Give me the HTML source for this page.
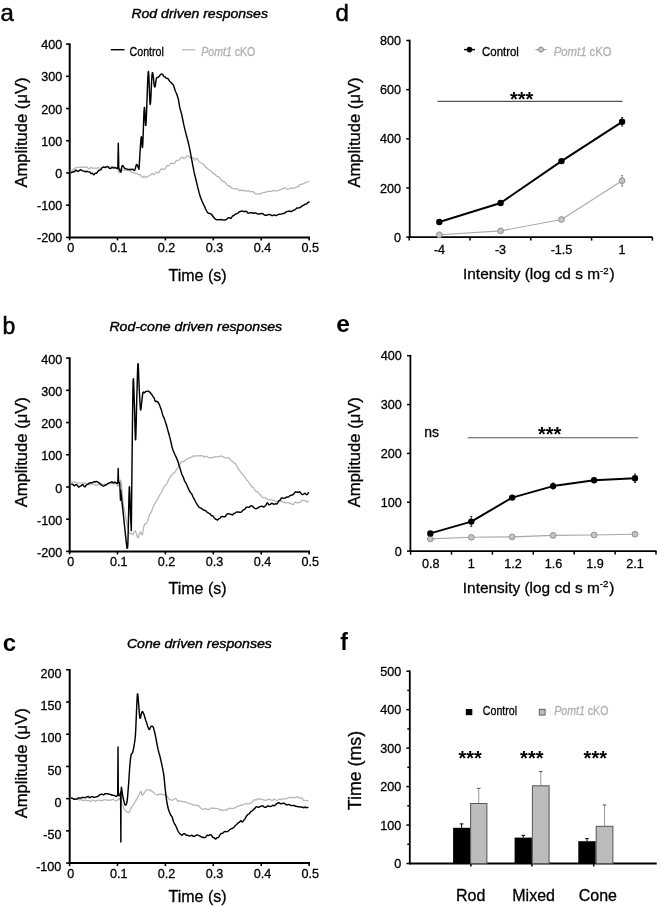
<!DOCTYPE html>
<html><head><meta charset="utf-8"><style>
html,body{margin:0;padding:0;background:#fff;overflow:hidden;}
svg{display:block;font-family:"Liberation Sans", sans-serif;will-change:transform;}
</style></head><body>
<svg width="660" height="907" viewBox="0 0 660 907">
<line x1="69.7" y1="43.3" x2="69.7" y2="238.4" stroke="#000" stroke-width="2.0" />
<line x1="66.1" y1="44.1" x2="69.7" y2="44.1" stroke="#000" stroke-width="1.6" />
<text x="62.2" y="49.1" font-size="12.6" text-anchor="end"  stroke="#000" stroke-width="0.3">400</text>
<line x1="66.1" y1="76.32" x2="69.7" y2="76.32" stroke="#000" stroke-width="1.6" />
<text x="62.2" y="81.32" font-size="12.6" text-anchor="end"  stroke="#000" stroke-width="0.3">300</text>
<line x1="66.1" y1="108.53" x2="69.7" y2="108.53" stroke="#000" stroke-width="1.6" />
<text x="62.2" y="113.53" font-size="12.6" text-anchor="end"  stroke="#000" stroke-width="0.3">200</text>
<line x1="66.1" y1="140.75" x2="69.7" y2="140.75" stroke="#000" stroke-width="1.6" />
<text x="62.2" y="145.75" font-size="12.6" text-anchor="end"  stroke="#000" stroke-width="0.3">100</text>
<line x1="66.1" y1="172.97" x2="69.7" y2="172.97" stroke="#000" stroke-width="1.6" />
<text x="62.2" y="177.97" font-size="12.6" text-anchor="end"  stroke="#000" stroke-width="0.3">0</text>
<line x1="66.1" y1="205.18" x2="69.7" y2="205.18" stroke="#000" stroke-width="1.6" />
<text x="62.2" y="210.18" font-size="12.6" text-anchor="end"  stroke="#000" stroke-width="0.3">-100</text>
<line x1="66.1" y1="237.4" x2="69.7" y2="237.4" stroke="#000" stroke-width="1.6" />
<text x="62.2" y="242.4" font-size="12.6" text-anchor="end"  stroke="#000" stroke-width="0.3">-200</text>
<line x1="68.7" y1="237.4" x2="310" y2="237.4" stroke="#000" stroke-width="2.0" />
<line x1="69.6" y1="237.4" x2="69.6" y2="240.4" stroke="#000" stroke-width="1.6" />
<text x="70.8" y="251.8" font-size="12.6" text-anchor="middle"  stroke="#000" stroke-width="0.3">0</text>
<line x1="117.5" y1="237.4" x2="117.5" y2="240.4" stroke="#000" stroke-width="1.6" />
<text x="118.7" y="251.8" font-size="12.6" text-anchor="middle"  stroke="#000" stroke-width="0.3">0.1</text>
<line x1="165.4" y1="237.4" x2="165.4" y2="240.4" stroke="#000" stroke-width="1.6" />
<text x="166.6" y="251.8" font-size="12.6" text-anchor="middle"  stroke="#000" stroke-width="0.3">0.2</text>
<line x1="213.3" y1="237.4" x2="213.3" y2="240.4" stroke="#000" stroke-width="1.6" />
<text x="214.5" y="251.8" font-size="12.6" text-anchor="middle"  stroke="#000" stroke-width="0.3">0.3</text>
<line x1="261.2" y1="237.4" x2="261.2" y2="240.4" stroke="#000" stroke-width="1.6" />
<text x="262.4" y="251.8" font-size="12.6" text-anchor="middle"  stroke="#000" stroke-width="0.3">0.4</text>
<line x1="309.1" y1="237.4" x2="309.1" y2="240.4" stroke="#000" stroke-width="1.6" />
<text x="310.3" y="251.8" font-size="12.6" text-anchor="middle"  stroke="#000" stroke-width="0.3">0.5</text>
<text transform="translate(26.6,132.5) rotate(-90)" font-size="16.6" text-anchor="middle" stroke="#000" stroke-width="0.3">Amplitude (&#956;V)</text>
<text x="199.7" y="17.8" font-size="13.4" text-anchor="middle" font-style="italic" stroke="#000" stroke-width="0.4" textLength="136.5" lengthAdjust="spacingAndGlyphs">Rod driven responses</text>
<text x="195.8" y="331.1" font-size="13.4" text-anchor="middle" font-style="italic" stroke="#000" stroke-width="0.4" textLength="172.8" lengthAdjust="spacingAndGlyphs">Rod-cone driven responses</text>
<text x="199.4" y="647.6" font-size="13.4" text-anchor="middle" font-style="italic" stroke="#000" stroke-width="0.4" textLength="145" lengthAdjust="spacingAndGlyphs">Cone driven responses</text>
<text x="197.5" y="280.8" font-size="16" text-anchor="middle"  stroke="#000" stroke-width="0.3">Time (s)</text>
<line x1="69.7" y1="357.3" x2="69.7" y2="552.4" stroke="#000" stroke-width="2.0" />
<line x1="66.1" y1="358.1" x2="69.7" y2="358.1" stroke="#000" stroke-width="1.6" />
<text x="62.2" y="363.7" font-size="12.6" text-anchor="end"  stroke="#000" stroke-width="0.3">400</text>
<line x1="66.1" y1="390.32" x2="69.7" y2="390.32" stroke="#000" stroke-width="1.6" />
<text x="62.2" y="395.92" font-size="12.6" text-anchor="end"  stroke="#000" stroke-width="0.3">300</text>
<line x1="66.1" y1="422.53" x2="69.7" y2="422.53" stroke="#000" stroke-width="1.6" />
<text x="62.2" y="428.13" font-size="12.6" text-anchor="end"  stroke="#000" stroke-width="0.3">200</text>
<line x1="66.1" y1="454.75" x2="69.7" y2="454.75" stroke="#000" stroke-width="1.6" />
<text x="62.2" y="460.35" font-size="12.6" text-anchor="end"  stroke="#000" stroke-width="0.3">100</text>
<line x1="66.1" y1="486.97" x2="69.7" y2="486.97" stroke="#000" stroke-width="1.6" />
<text x="62.2" y="492.57" font-size="12.6" text-anchor="end"  stroke="#000" stroke-width="0.3">0</text>
<line x1="66.1" y1="519.18" x2="69.7" y2="519.18" stroke="#000" stroke-width="1.6" />
<text x="62.2" y="524.78" font-size="12.6" text-anchor="end"  stroke="#000" stroke-width="0.3">-100</text>
<line x1="66.1" y1="551.4" x2="69.7" y2="551.4" stroke="#000" stroke-width="1.6" />
<text x="62.2" y="557" font-size="12.6" text-anchor="end"  stroke="#000" stroke-width="0.3">-200</text>
<line x1="68.7" y1="551.4" x2="310" y2="551.4" stroke="#000" stroke-width="2.0" />
<line x1="69.6" y1="551.4" x2="69.6" y2="554.4" stroke="#000" stroke-width="1.6" />
<text x="70.8" y="565.8" font-size="12.6" text-anchor="middle"  stroke="#000" stroke-width="0.3">0</text>
<line x1="117.5" y1="551.4" x2="117.5" y2="554.4" stroke="#000" stroke-width="1.6" />
<text x="118.7" y="565.8" font-size="12.6" text-anchor="middle"  stroke="#000" stroke-width="0.3">0.1</text>
<line x1="165.4" y1="551.4" x2="165.4" y2="554.4" stroke="#000" stroke-width="1.6" />
<text x="166.6" y="565.8" font-size="12.6" text-anchor="middle"  stroke="#000" stroke-width="0.3">0.2</text>
<line x1="213.3" y1="551.4" x2="213.3" y2="554.4" stroke="#000" stroke-width="1.6" />
<text x="214.5" y="565.8" font-size="12.6" text-anchor="middle"  stroke="#000" stroke-width="0.3">0.3</text>
<line x1="261.2" y1="551.4" x2="261.2" y2="554.4" stroke="#000" stroke-width="1.6" />
<text x="262.4" y="565.8" font-size="12.6" text-anchor="middle"  stroke="#000" stroke-width="0.3">0.4</text>
<line x1="309.1" y1="551.4" x2="309.1" y2="554.4" stroke="#000" stroke-width="1.6" />
<text x="310.3" y="565.8" font-size="12.6" text-anchor="middle"  stroke="#000" stroke-width="0.3">0.5</text>
<text transform="translate(26.6,452.2) rotate(-90)" font-size="16.6" text-anchor="middle" stroke="#000" stroke-width="0.3">Amplitude (&#956;V)</text>
<text x="197.5" y="594.1" font-size="16" text-anchor="middle"  stroke="#000" stroke-width="0.3">Time (s)</text>
<line x1="69.7" y1="669" x2="69.7" y2="864.1" stroke="#000" stroke-width="2.0" />
<line x1="66.1" y1="669.8" x2="69.7" y2="669.8" stroke="#000" stroke-width="1.6" />
<text x="61.4" y="677.9" font-size="12.6" text-anchor="end"  stroke="#000" stroke-width="0.3">200</text>
<line x1="66.1" y1="702.02" x2="69.7" y2="702.02" stroke="#000" stroke-width="1.6" />
<text x="61.4" y="710.12" font-size="12.6" text-anchor="end"  stroke="#000" stroke-width="0.3">150</text>
<line x1="66.1" y1="734.23" x2="69.7" y2="734.23" stroke="#000" stroke-width="1.6" />
<text x="61.4" y="742.33" font-size="12.6" text-anchor="end"  stroke="#000" stroke-width="0.3">100</text>
<line x1="66.1" y1="766.45" x2="69.7" y2="766.45" stroke="#000" stroke-width="1.6" />
<text x="61.4" y="774.55" font-size="12.6" text-anchor="end"  stroke="#000" stroke-width="0.3">50</text>
<line x1="66.1" y1="798.67" x2="69.7" y2="798.67" stroke="#000" stroke-width="1.6" />
<text x="61.4" y="806.77" font-size="12.6" text-anchor="end"  stroke="#000" stroke-width="0.3">0</text>
<line x1="66.1" y1="830.88" x2="69.7" y2="830.88" stroke="#000" stroke-width="1.6" />
<text x="61.4" y="838.98" font-size="12.6" text-anchor="end"  stroke="#000" stroke-width="0.3">-50</text>
<line x1="66.1" y1="863.1" x2="69.7" y2="863.1" stroke="#000" stroke-width="1.6" />
<text x="61.4" y="871.2" font-size="12.6" text-anchor="end"  stroke="#000" stroke-width="0.3">-100</text>
<line x1="68.7" y1="863.1" x2="310" y2="863.1" stroke="#000" stroke-width="2.0" />
<line x1="69.6" y1="863.1" x2="69.6" y2="866.1" stroke="#000" stroke-width="1.6" />
<text x="70.8" y="877.5" font-size="12.6" text-anchor="middle"  stroke="#000" stroke-width="0.3">0</text>
<line x1="117.5" y1="863.1" x2="117.5" y2="866.1" stroke="#000" stroke-width="1.6" />
<text x="118.7" y="877.5" font-size="12.6" text-anchor="middle"  stroke="#000" stroke-width="0.3">0.1</text>
<line x1="165.4" y1="863.1" x2="165.4" y2="866.1" stroke="#000" stroke-width="1.6" />
<text x="166.6" y="877.5" font-size="12.6" text-anchor="middle"  stroke="#000" stroke-width="0.3">0.2</text>
<line x1="213.3" y1="863.1" x2="213.3" y2="866.1" stroke="#000" stroke-width="1.6" />
<text x="214.5" y="877.5" font-size="12.6" text-anchor="middle"  stroke="#000" stroke-width="0.3">0.3</text>
<line x1="261.2" y1="863.1" x2="261.2" y2="866.1" stroke="#000" stroke-width="1.6" />
<text x="262.4" y="877.5" font-size="12.6" text-anchor="middle"  stroke="#000" stroke-width="0.3">0.4</text>
<line x1="309.1" y1="863.1" x2="309.1" y2="866.1" stroke="#000" stroke-width="1.6" />
<text x="310.3" y="877.5" font-size="12.6" text-anchor="middle"  stroke="#000" stroke-width="0.3">0.5</text>
<text transform="translate(26.6,763.3) rotate(-90)" font-size="16.6" text-anchor="middle" stroke="#000" stroke-width="0.3">Amplitude (&#956;V)</text>
<text x="197.5" y="902.3" font-size="16" text-anchor="middle"  stroke="#000" stroke-width="0.3">Time (s)</text>
<text x="0.6" y="20.6" font-size="24" stroke="#000" stroke-width="0.5">a</text>
<text x="2.6" y="334.4" font-size="23" stroke="#000" stroke-width="0.5">b</text>
<text x="2.8" y="650.5" font-size="24" font-weight="bold" >c</text>
<text x="335.4" y="20.8" font-size="24" stroke="#000" stroke-width="0.5">d</text>
<text x="336.2" y="332" font-size="24.5" font-weight="bold" >e</text>
<text x="340.2" y="649.5" font-size="23" font-weight="bold" >f</text>
<line x1="110.8" y1="49.7" x2="124.5" y2="49.7" stroke="#000" stroke-width="1.4" />
<text x="129.6" y="55.6" font-size="12.4" textLength="34.3" lengthAdjust="spacingAndGlyphs" stroke="#000" stroke-width="0.3">Control</text>
<line x1="182" y1="49.7" x2="195.4" y2="49.7" stroke="#c0c0c0" stroke-width="1.4" />
<text x="201.3" y="55.6" font-size="12.4" fill="#b0b0b0" textLength="54" lengthAdjust="spacingAndGlyphs" stroke="#b0b0b0" stroke-width="0.3"><tspan font-style="italic">Pomt1</tspan> cKO</text>
<polyline points="70.7,171.21 70.98,171.01 71.35,170.73 71.8,170.51 72.29,170.31 72.8,170.12 73.3,169.52 73.73,169.02 74.17,168.52 74.63,168.26 75.1,168.04 75.57,167.84 76.04,167.69 76.5,167.59 77.05,167.53 77.61,167.27 78.17,167.05 78.71,167.11 79.23,167.33 79.7,167.48 80.28,167.42 80.75,167.23 81.22,167.08 81.8,167.12 82.28,167.3 82.83,167.35 83.4,167.12 83.97,166.89 84.52,167.17 85,167.39 85.6,167.37 86.12,167.04 86.6,166.73 87.1,166.89 87.6,167.56 88.08,168.39 88.6,168.84 89.2,168.96 89.67,168.8 90.19,168.23 90.73,167.58 91.29,167.43 91.85,167.81 92.4,168.27 92.93,168.22 93.47,168.23 94,168.2 94.53,168.09 95.07,168 95.6,168.03 96.13,168.12 96.67,168.22 97.21,168.11 97.74,167.99 98.27,167.94 98.8,167.92 99.32,167.84 99.84,168.05 100.35,168.28 100.86,168.41 101.38,168.03 101.9,167.66 102.43,167.43 102.96,167.39 103.49,167.34 104.03,167.26 104.57,167.17 105.1,167.06 105.63,166.84 106.17,166.63 106.7,166.64 107.23,166.83 107.77,167.01 108.3,166.93 108.83,166.81 109.37,166.74 109.9,166.86 110.43,166.99 110.97,166.84 111.5,166.62 112.03,166.45 112.57,166.58 113.11,166.75 113.64,166.87 114.17,166.93 114.7,167.02 115.26,167.31 115.86,167.71 116.45,168.04 117,168.22 117.46,168.38 117.8,168.58 118.9,172.97 120,168.69 120.32,169.44 120.76,169.65 121.28,169.83 121.86,170 122.48,170.09 123.1,170.16 123.58,170.22 124.09,170.28 124.63,170.33 125.18,170.22 125.74,170.11 126.3,170.1 126.86,170.19 127.4,170.27 127.94,170.43 128.48,170.6 129.02,170.69 129.56,170.67 130.09,170.66 130.61,171.08 131.11,171.61 131.6,172.13 132.14,172.06 132.67,172.01 133.18,172.14 133.68,172.56 134.15,172.97 134.59,173.14 135,173.04 135.6,172.81 136.09,172.9 136.56,173.23 137.1,173.77 137.52,174.04 137.96,174.31 138.42,174.63 138.89,174.74 139.35,174.68 139.8,174.59 140.24,174.81 140.69,175.29 141.14,175.76 141.57,176.29 142,176.87 142.4,177.34 142.97,177.49 143.51,176.9 144.02,176.3 144.5,176.23 145.03,176.8 145.5,177.54 146.1,177.54 146.56,177.21 147.08,176.81 147.63,176.45 148.21,176 148.8,175.87 149.18,175.84 149.59,175.73 150.01,175.48 150.44,175.12 150.86,174.77 151.27,174.42 151.65,173.93 152,173.58 152.48,173.43 152.9,173.75 153.28,174.23 153.67,174.56 154.1,174.57 154.37,174.44 154.65,174.16 154.94,173.78 155.24,173.33 155.54,172.93 155.84,172.61 156.14,172.35 156.43,172.19 156.7,172.17 157.17,172.17 157.61,172.43 158.05,172.81 158.47,172.96 158.9,172.7 159.2,172.24 159.48,171.6 159.75,170.99 160.03,170.44 160.32,169.91 160.64,169.47 161,169.19 161.48,168.97 162.01,168.92 162.57,168.97 163.14,169.06 163.69,169.06 164.2,169.23 164.56,169.25 164.9,169.15 165.24,168.89 165.57,168.15 165.89,167.4 166.2,166.69 166.5,166.06 166.8,165.77 167.35,165.73 167.84,165.93 168.34,165.96 168.9,165.68 169.26,165.33 169.65,164.83 170.05,164.23 170.45,163.63 170.85,163.11 171.24,162.99 171.6,163 172.15,163.41 172.65,163.53 173.15,163.59 173.7,163.37 174.01,163.34 174.34,163.21 174.67,162.99 175.02,162.71 175.37,162.02 175.72,161.36 176.06,160.77 176.4,160.29 176.92,160.26 177.42,160.41 177.92,160.55 178.44,160.39 179,159.99 179.34,159.65 179.69,159.26 180.06,158.79 180.44,158.29 180.82,157.94 181.19,157.74 181.55,157.6 181.89,157.55 182.2,157.42 182.68,157.42 183.09,157.81 183.47,158.33 183.86,158.64 184.3,158.57 184.65,158.21 185.02,157.92 185.39,157.71 185.78,157.47 186.18,157.26 186.59,156.61 187,156.1 187.5,155.73 188.02,155.94 188.55,156.36 189.08,156.84 189.6,157.43 190.1,157.91 190.68,158.12 191.24,158.03 191.78,157.93 192.3,157.67 192.8,157.51 193.26,157.62 193.68,158.46 194.09,159.3 194.49,160.07 194.9,160.12 195.41,159.55 195.91,158.73 196.43,158.34 197,158.39 197.31,158.62 197.62,159.08 197.95,159.67 198.28,160.32 198.62,161 198.98,161.5 199.33,161.77 199.7,161.98 200.08,162.14 200.49,162.42 200.91,162.74 201.34,163.05 201.76,163.32 202.17,163.53 202.55,163.74 202.9,163.94 203.38,164.37 203.78,164.79 204.15,165.2 204.54,165.69 205,166.38 205.37,166.91 205.75,167.45 206.15,167.66 206.58,167.83 207.02,168.01 207.5,168.42 208,169.02 208.38,169.46 208.78,169.8 209.2,170.01 209.63,170.21 210.07,170.45 210.52,170.83 210.98,171.2 211.43,171.59 211.87,172.17 212.3,172.75 212.72,173.31 213.14,173.48 213.56,173.56 213.98,173.65 214.4,173.86 214.82,174.22 215.24,174.58 215.66,174.97 216.08,175.44 216.5,175.92 216.89,176.37 217.28,176.51 217.67,176.54 218.06,176.57 218.45,176.64 218.85,176.97 219.24,177.3 219.63,177.63 220.02,178.16 220.41,178.84 220.8,179.51 221.18,180.17 221.55,180.49 221.92,180.79 222.29,181.09 222.65,181.36 223.02,181.45 223.4,181.55 223.78,181.63 224.17,181.81 224.58,182.12 225,182.43 225.4,182.72 225.82,183.3 226.25,183.89 226.69,184.49 227.13,184.96 227.58,185.38 228.04,185.8 228.49,185.9 228.95,185.82 229.4,185.73 229.85,186.06 230.3,186.72 230.78,187.42 231.26,187.86 231.75,188.09 232.23,188.31 232.71,188.45 233.19,188.54 233.67,188.62 234.15,188.72 234.64,188.83 235.12,188.92 235.6,188.93 236.13,188.91 236.66,188.89 237.19,188.98 237.72,189.06 238.25,189.41 238.78,190.06 239.31,190.71 239.84,190.52 240.37,190.16 240.9,189.93 241.43,190.29 241.96,190.63 242.49,190.65 243.02,190.42 243.55,190.19 244.08,190.51 244.61,190.89 245.14,191.15 245.67,191.07 246.2,191.01 246.74,190.92 247.3,190.83 247.88,190.75 248.45,190.79 249.02,190.84 249.58,191.17 250.12,191.62 250.62,192.03 251.08,191.79 251.5,191.58 252.16,191.41 252.66,191.66 253.07,191.88 253.49,192.12 254,192.49 254.44,192.81 254.91,193.16 255.39,193.51 255.9,193.87 256.4,194.08 256.91,194.08 257.4,194.04 257.96,193.9 258.51,193.69 259.06,193.52 259.62,193.87 260.2,194.21 260.8,193.94 261.27,193.48 261.74,193 262.22,192.76 262.71,192.53 263.21,192.3 263.72,192.33 264.25,192.35 264.8,192.37 265.25,192.37 265.72,192.36 266.2,192.23 266.7,191.91 267.19,191.59 267.7,191.44 268.2,191.41 268.71,191.37 269.21,191.37 269.7,191.38 270.19,191.39 270.68,191.4 271.17,191.41 271.66,191.39 272.14,191.04 272.63,190.7 273.12,190.44 273.61,190.47 274.11,190.5 274.6,190.6 275.1,190.8 275.6,191 276.1,191.06 276.6,191.01 277.1,190.96 277.6,190.72 278.1,190.43 278.6,190.15 279.1,190.07 279.6,189.99 280.09,189.89 280.59,189.72 281.08,189.55 281.57,189.31 282.06,188.95 282.54,188.6 283.03,188.34 283.52,188.19 284.01,188.05 284.5,187.95 285.05,187.88 285.61,187.84 286.17,188.39 286.73,188.95 287.29,189.14 287.84,189 288.38,188.86 288.9,188.99 289.4,189.12 290.01,188.99 290.58,188.35 291.14,187.74 291.67,187.98 292.21,188.32 292.75,188.5 293.3,188.29 293.8,188.08 294.3,187.99 294.8,187.96 295.3,187.92 295.8,187.56 296.3,187.11 296.8,186.65 297.3,186.8 297.74,186.91 298.17,187 298.6,186.32 299.03,185.59 299.47,184.85 299.9,184.58 300.33,184.54 300.76,184.5 301.2,184.42 301.69,184.25 302.18,184.1 302.68,183.94 303.17,183.78 303.67,183.63 304.17,183.34 304.68,183.01 305.2,182.68 305.7,182.45 306.24,182.21 306.8,181.99 307.37,181.84 307.92,181.68 308.44,181.56 308.91,181.45 309.3,181.36 309.6,181.14" fill="none" stroke="#b4b4b4" stroke-width="1.25" stroke-linejoin="round" />
<polyline points="70.7,172.91 71.09,172.75 71.65,172.47 72.26,172.14 72.8,171.97 73.37,171.78 73.89,171.82 74.4,171.7 74.79,171.33 75.17,170.76 75.56,170.19 76,170.08 76.49,170.43 77.02,171.04 77.56,171.36 78.1,171.37 78.44,171.13 78.78,170.92 79.12,170.61 79.46,170.31 79.82,170.11 80.2,169.84 80.69,169.81 81.2,169.99 81.73,170.29 82.27,170.61 82.8,170.85 83.34,171.02 83.88,171.17 84.42,171.37 84.96,171.57 85.5,171.7 86.02,171.5 86.54,171.29 87.06,171.31 87.58,171.58 88.1,171.87 88.63,171.89 89.17,171.86 89.72,171.97 90.26,172.6 90.8,173.28 91.25,173.46 91.7,173.34 92.16,173.25 92.61,173.51 93.06,174.14 93.5,174.65 94.02,174.7 94.54,174.11 95.06,173.42 95.58,173.24 96.1,173.25 96.48,173.22 96.85,172.85 97.23,172.31 97.61,171.75 98,171.19 98.39,170.83 98.8,170.5 99.22,170.2 99.65,170.02 100.1,169.93 100.54,169.86 101,169.51 101.45,168.81 101.9,168.11 102.35,167.57 102.81,167.31 103.26,167.07 103.72,166.95 104.18,167.18 104.64,167.44 105.1,167.62 105.63,167.29 106.17,167.03 106.7,166.82 107.23,166.64 107.77,166.47 108.3,167.06 108.83,167.71 109.37,168.22 109.9,168.35 110.43,168.48 110.97,168.26 111.5,167.86 112.03,167.46 112.57,167.69 113.11,167.9 113.64,167.94 114.17,167.78 114.7,167.65 115.26,167.77 115.86,167.96 116.45,168.2 117,168.47 117.46,168.7 117.8,168.62 118.3,143.13 118.8,168.51 119.02,168.46 119.34,169.22 119.69,170.04 120,170.77 120.39,171.64 120.75,171.96 121,172.17 121.05,171.96 121.11,171.54 121.17,171.02 121.25,170.45 121.33,169.83 121.42,169.19 121.52,168.56 121.62,167.95 121.73,167.39 121.85,166.9 121.97,165.97 122.1,165.72 122.55,165.56 123.09,165.94 123.65,166.83 124.2,167.71 124.62,168.31 125.04,168.47 125.46,168.63 125.88,168.76 126.3,168.95 126.8,169.1 127.28,169.15 127.8,169.23 128.4,169.37 128.87,169.49 129.39,169.47 129.94,169.45 130.51,169.43 131.07,169.43 131.6,169.42 132.12,169.31 132.65,169.29 133.17,169.48 133.68,169.99 134.16,170.3 134.6,170.22 134.8,169.97 135,169.59 135.19,169.13 135.37,168.09 135.55,167.47 135.72,166.83 135.88,166.2 136.04,165.59 136.19,165.03 136.33,165.16 136.47,164.79 136.6,164.56 136.93,164.47 137.19,164.98 137.43,165.16 137.7,166.38 137.89,166.75 138.09,167.19 138.31,167.66 138.52,168.14 138.72,168.58 138.88,168.95 139,169.22 139.02,168.86 139.04,168.57 139.06,168.25 139.08,167.91 139.1,167.55 139.13,167.16 139.15,166.76 139.18,166.33 139.21,165.89 139.23,165.42 139.26,164.94 139.29,164.44 139.32,163.93 139.36,163.4 139.39,162.86 139.42,162.3 139.46,161.73 139.49,161.15 139.53,160.56 139.56,159.96 139.6,159.35 139.64,158.73 139.68,158.11 139.71,157.47 139.75,156.84 139.79,156.2 139.83,155.55 139.87,154.9 139.91,154.25 139.95,153.6 139.99,152.95 140.03,152.31 140.07,151.66 140.12,151.02 140.16,150.38 140.2,149.74 140.24,149.11 140.28,148.49 140.32,147.87 140.36,147.26 140.4,146.66 140.44,146.07 140.49,145.48 140.53,144.91 140.57,144.36 140.61,143.81 140.64,143.28 140.68,142.76 140.72,142.26 140.76,141.77 140.8,141.31 140.84,140.86 140.87,140.43 140.91,140.01 140.94,139.62 140.98,139.26 141.01,138.91 141.05,138.59 141.08,138.29 141.11,138.02 141.14,137.77 141.17,137.55 141.2,137.36 141.3,136.75 141.39,136.67 141.48,137.09 141.56,137.59 141.64,138.31 141.71,139.2 141.79,140.22 141.86,141.32 141.93,142.45 142,143.57 142.07,144.64 142.14,145.6 142.21,146.41 142.28,147.03 142.36,147.41 142.44,147.64 142.52,147.26 142.6,146.65 142.62,146.44 142.64,146.22 142.66,145.97 142.68,145.69 142.7,145.4 142.72,145.08 142.74,144.74 142.76,144.38 142.78,144 142.8,143.61 142.82,143.19 142.85,142.75 142.87,142.3 142.89,141.83 142.91,141.34 142.93,140.84 142.95,140.33 142.97,139.8 143,139.26 143.02,138.7 143.04,138.14 143.06,137.56 143.08,136.97 143.1,136.37 143.13,135.76 143.15,135.15 143.17,134.52 143.19,133.89 143.21,133.26 143.24,132.61 143.26,131.96 143.28,131.31 143.3,130.65 143.33,129.99 143.35,129.33 143.37,128.66 143.39,127.99 143.42,127.33 143.44,126.66 143.46,125.99 143.48,125.33 143.5,124.66 143.53,124 143.55,123.34 143.57,122.69 143.59,122.04 143.62,121.4 143.64,120.76 143.66,120.13 143.68,119.5 143.71,118.89 143.73,118.28 143.75,117.68 143.77,117.09 143.8,116.51 143.82,115.95 143.84,115.39 143.86,114.85 143.89,114.32 143.91,113.81 143.93,113.31 143.95,112.82 143.97,112.35 144,111.9 144.02,111.46 144.04,111.04 144.06,110.64 144.08,110.26 144.11,109.9 144.13,109.56 144.15,109.24 144.17,108.95 144.19,108.67 144.21,108.42 144.24,108.19 144.26,107.98 144.28,107.8 144.3,107.64 144.35,107.39 144.4,107.41 144.44,107.43 144.49,107.5 144.53,107.78 144.58,108.18 144.62,108.67 144.67,109.26 144.71,109.93 144.75,110.67 144.8,111.47 144.84,112.32 144.88,113.21 144.93,114.14 144.97,115.09 145.01,116.05 145.06,117.01 145.1,117.97 145.14,118.92 145.19,119.84 145.23,120.72 145.28,121.56 145.33,122.35 145.37,123.07 145.42,123.71 145.47,124.28 145.52,124.75 145.57,125.12 145.62,125.38 145.68,125.04 145.73,125.05 145.79,125.4 145.84,125.12 145.9,124.68 145.92,124.51 145.94,124.31 145.96,124.09 145.98,123.85 146,123.59 146.02,123.31 146.04,123.02 146.06,122.71 146.08,122.38 146.1,122.03 146.12,121.67 146.14,121.29 146.16,120.9 146.18,120.49 146.21,120.07 146.23,119.63 146.25,119.18 146.27,118.71 146.29,118.23 146.31,117.74 146.34,117.24 146.36,116.72 146.38,116.19 146.4,115.66 146.43,115.11 146.45,114.55 146.47,113.98 146.5,113.4 146.52,112.81 146.54,112.21 146.57,111.6 146.59,110.99 146.61,110.37 146.64,109.74 146.66,109.11 146.68,108.46 146.71,107.82 146.73,107.16 146.75,106.5 146.78,105.84 146.8,105.17 146.83,104.5 146.85,103.83 146.87,103.15 146.9,102.47 146.92,101.79 146.95,101.1 146.97,100.41 147,99.73 147.02,99.04 147.04,98.35 147.07,97.66 147.09,96.97 147.12,96.29 147.14,95.6 147.17,94.92 147.19,94.23 147.22,93.55 147.24,92.88 147.26,92.2 147.29,91.53 147.31,90.87 147.34,90.21 147.36,89.55 147.39,88.9 147.41,88.26 147.43,87.62 147.46,86.98 147.48,86.36 147.51,85.74 147.53,85.13 147.56,84.53 147.58,83.93 147.6,83.35 147.63,82.77 147.65,82.21 147.67,81.65 147.7,81.11 147.72,80.57 147.75,80.05 147.77,79.54 147.79,79.04 147.82,78.56 147.84,78.08 147.86,77.62 147.89,77.18 147.91,76.74 147.93,76.33 147.95,75.92 147.98,75.54 148,75.17 148.02,74.81 148.04,74.47 148.07,74.15 148.09,73.85 148.11,73.56 148.13,73.29 148.15,73.04 148.17,72.81 148.2,72.6 148.22,72.41 148.24,72.24 148.26,72.09 148.28,71.96 148.3,71.85 148.33,71.72 148.37,71.47 148.4,71.45 148.43,71.49 148.46,71.74 148.5,71.87 148.53,72.04 148.56,72.27 148.59,72.53 148.62,72.84 148.65,73.19 148.68,73.57 148.71,74 148.75,74.45 148.78,74.94 148.81,75.47 148.84,76.02 148.87,76.6 148.89,77.21 148.92,77.84 148.95,78.5 148.98,79.17 149.01,79.87 149.04,80.58 149.07,81.31 149.1,82.06 149.13,82.82 149.16,83.59 149.18,84.37 149.21,85.15 149.24,85.95 149.27,86.74 149.3,87.54 149.33,88.34 149.35,89.14 149.38,89.94 149.41,90.73 149.44,91.52 149.47,92.3 149.49,93.07 149.52,93.83 149.55,94.57 149.58,95.3 149.61,96.02 149.64,96.72 149.67,97.4 149.69,98.05 149.72,98.69 149.75,99.3 149.78,99.88 149.81,100.44 149.84,100.96 149.87,101.46 149.9,101.92 149.93,102.34 149.96,102.73 149.99,103.09 150.02,103.4 150.05,103.67 150.08,103.89 150.11,104.07 150.14,104.21 150.17,104.41 150.2,104.45 150.23,104.45 150.26,104.4 150.3,104.17 150.33,104.03 150.36,103.85 150.39,103.63 150.43,103.38 150.46,103.09 150.49,102.77 150.53,102.41 150.56,102.02 150.59,101.61 150.62,101.16 150.66,100.69 150.69,100.19 150.72,99.67 150.76,99.13 150.79,98.56 150.82,97.97 150.86,97.37 150.89,96.74 150.92,96.1 150.96,95.45 150.99,94.78 151.02,94.1 151.06,93.41 151.09,92.71 151.12,92 151.16,91.29 151.19,90.57 151.22,89.84 151.26,89.11 151.29,88.38 151.33,87.65 151.36,86.92 151.4,86.19 151.43,85.47 151.46,84.76 151.5,84.05 151.53,83.35 151.57,82.66 151.6,81.98 151.64,81.32 151.67,80.66 151.7,80.03 151.74,79.41 151.77,78.81 151.81,78.23 151.84,77.67 151.88,77.13 151.91,76.61 151.95,76.13 151.98,75.66 152.02,75.23 152.05,74.82 152.09,74.45 152.12,74.11 152.16,73.8 152.19,73.52 152.23,73.28 152.26,73.08 152.3,72.92 152.38,72.74 152.46,72.61 152.54,72.61 152.62,72.71 152.71,72.96 152.79,73.3 152.87,73.73 152.96,74.24 153.04,74.81 153.13,75.45 153.21,76.14 153.3,76.88 153.38,77.64 153.47,78.43 153.55,79.24 153.64,80.05 153.72,80.85 153.81,81.64 153.89,82.41 153.97,83.15 154.06,83.86 154.14,84.53 154.22,85.14 154.3,85.68 154.37,86.14 154.45,86.51 154.53,86.57 154.6,86.79 154.72,86.97 154.84,86.99 154.95,86.85 155.06,86.42 155.18,85.96 155.28,85.42 155.39,84.8 155.5,84.1 155.6,83.36 155.71,82.61 155.81,81.86 155.91,81.12 156.01,80.43 156.11,79.79 156.21,79.23 156.3,78.77 156.4,78.47 156.92,77.4 157.41,77.4 157.9,77.4 158.38,77.08 158.86,76.64 159.4,76.02 159.7,75.63 160.03,75.25 160.37,74.84 160.71,74.46 161.06,74.17 161.4,73.97 161.91,74 162.43,74.32 162.94,75 163.4,75.66 163.7,76.15 163.94,76.48 164.18,76.71 164.48,76.9 164.9,76.99 165.25,77.03 165.66,77.46 166.11,77.92 166.59,78.38 167.08,78.42 167.56,78.47 168,78.56 168.4,79.12 168.75,79.7 169.08,80.32 169.38,80.95 169.66,81.24 169.94,81.51 170.22,81.76 170.5,81.99 170.8,82.16 171.21,82.68 171.63,83.1 172.04,83.48 172.46,83.86 172.88,84.34 173.3,85.03 173.48,85.4 173.66,85.83 173.84,86.33 174.01,86.86 174.19,87.41 174.37,87.99 174.55,88.53 174.73,89.09 174.91,89.66 175.09,90.21 175.26,90.73 175.44,91.19 175.62,91.6 175.8,91.98 175.98,92.36 176.17,92.72 176.35,93.07 176.54,93.58 176.73,94.14 176.92,94.71 177.11,95.27 177.3,95.84 177.48,96.41 177.66,96.98 177.83,97.6 178,98.11 178.15,98.62 178.3,99.16 178.41,99.61 178.52,100.08 178.62,100.56 178.71,101.06 178.8,101.56 178.89,102.07 178.97,102.59 179.05,103.1 179.13,103.62 179.2,104.14 179.28,104.66 179.36,105.18 179.44,105.69 179.52,106.19 179.61,106.68 179.7,107.15 179.8,107.62 179.92,108.15 180.05,108.65 180.17,109.12 180.3,109.57 180.42,110 180.55,110.44 180.69,110.87 180.82,111.32 180.96,111.78 181.1,112.26 181.25,112.78 181.39,113.33 181.54,113.93 181.7,114.58 181.79,114.99 181.89,115.41 181.98,115.85 182.08,116.32 182.18,116.8 182.28,117.29 182.39,117.8 182.49,118.32 182.59,118.84 182.7,119.37 182.81,119.91 182.91,120.46 183.02,121 183.13,121.55 183.24,122.09 183.34,122.64 183.45,123.17 183.56,123.68 183.67,124.18 183.78,124.68 183.88,125.17 183.99,125.64 184.1,126.11 184.2,126.56 184.32,127.09 184.45,127.6 184.57,128.11 184.7,128.61 184.82,129.11 184.95,129.63 185.07,130.14 185.2,130.64 185.32,131.14 185.45,131.64 185.57,132.13 185.7,132.63 185.82,133.12 185.95,133.61 186.07,134.1 186.2,134.6 186.32,135.06 186.45,135.52 186.57,135.99 186.7,136.46 186.83,136.93 186.95,137.41 187.08,137.89 187.22,138.37 187.35,138.86 187.48,139.35 187.61,139.84 187.75,140.38 187.88,140.91 188.01,141.44 188.14,141.97 188.27,142.49 188.4,143.01 188.52,143.53 188.65,144.04 188.76,144.54 188.88,145.04 188.99,145.53 189.1,145.97 189.2,146.41 189.32,146.94 189.44,147.47 189.54,147.98 189.65,148.48 189.75,148.97 189.84,149.45 189.93,149.93 190.02,150.41 190.1,150.87 190.19,151.34 190.27,151.8 190.36,152.26 190.44,152.73 190.52,153.2 190.61,153.67 190.7,154.14 190.79,154.65 190.89,155.13 190.98,155.61 191.06,156.08 191.15,156.54 191.23,157 191.32,157.47 191.41,157.93 191.49,158.41 191.59,158.89 191.68,159.39 191.78,159.91 191.88,160.46 191.99,161.04 192.1,161.64 192.18,162.09 192.27,162.55 192.36,163.03 192.45,163.53 192.55,164.03 192.65,164.54 192.74,165.07 192.84,165.6 192.95,166.13 193.05,166.67 193.15,167.21 193.26,167.75 193.36,168.29 193.47,168.82 193.57,169.35 193.68,169.88 193.78,170.41 193.89,170.92 193.99,171.43 194.1,171.93 194.2,172.42 194.31,172.95 194.43,173.48 194.54,174 194.66,174.51 194.77,175 194.89,175.49 195.01,175.97 195.12,176.45 195.24,176.93 195.36,177.41 195.48,177.88 195.59,178.35 195.71,178.81 195.83,179.28 195.94,179.74 196.06,180.21 196.17,180.7 196.29,181.18 196.4,181.67 196.53,182.2 196.65,182.73 196.78,183.26 196.9,183.79 197.02,184.31 197.15,184.83 197.27,185.34 197.39,185.86 197.52,186.37 197.64,186.88 197.76,187.39 197.89,187.89 198.01,188.39 198.13,188.89 198.25,189.38 198.38,189.87 198.5,190.35 198.64,190.89 198.78,191.43 198.91,191.93 199.04,192.43 199.18,192.92 199.31,193.4 199.45,193.88 199.58,194.35 199.72,194.83 199.86,195.29 200,195.76 200.14,196.22 200.29,196.69 200.44,197.17 200.6,197.4 200.77,197.89 200.95,198.38 201.12,198.86 201.3,199.34 201.48,199.82 201.66,200.29 201.85,200.73 202.04,201.17 202.24,201.61 202.44,202.04 202.64,202.47 202.86,202.9 203.07,203.34 203.3,203.82 203.53,204.31 203.78,204.82 204.04,205.32 204.3,205.84 204.57,206.46 204.85,207.14 205.13,207.81 205.4,208.48 205.68,209.13 205.96,209.72 206.23,210.26 206.49,210.77 206.75,211.25 207,211.69 207.42,212.28 207.81,212.69 208.2,213.02 208.58,213.3 208.96,213.34 209.33,213.38 209.71,213.44 210.1,213.55 210.45,213.69 210.78,213.85 211.12,214.02 211.46,214.25 211.8,214.73 212.15,215.22 212.51,215.71 212.9,216.22 213.3,216.78 213.69,217.31 214.09,217.87 214.51,218.29 214.95,218.67 215.39,219.04 215.83,219.33 216.28,219.53 216.73,219.7 217.17,219.78 217.6,219.74 218.14,219.6 218.71,219.61 219.27,219.75 219.84,219.84 220.38,219.69 220.9,219.56 221.38,219.51 221.8,219.57 222.45,219.84 222.91,220.02 223.35,220.07 223.9,219.86 224.3,219.91 224.72,220.01 225.17,220.07 225.64,219.91 226.12,219.56 226.61,219.25 227.1,218.78 227.61,218.23 228.15,217.73 228.7,217.74 229.26,217.82 229.8,217.97 230.32,218.22 230.8,218.36 231.23,218.06 231.63,217.43 232,216.77 232.36,216.08 232.72,215.86 233.1,215.73 233.5,215.68 233.92,215.55 234.35,215.06 234.78,214.59 235.23,214.15 235.7,214.01 236.19,213.87 236.7,213.71 237.12,213.52 237.57,213.31 238.03,213.09 238.5,212.61 238.98,212.14 239.46,211.71 239.95,211.58 240.43,211.46 240.9,211.35 241.42,211.21 241.95,211.07 242.47,211.1 242.99,211.28 243.52,211.48 244.04,211.51 244.57,211.54 245.1,211.55 245.57,211.36 246.05,211.23 246.53,211.34 247.01,212.01 247.49,212.69 247.97,213.12 248.45,213.08 248.93,213.01 249.4,212.93 249.93,212.86 250.45,212.72 250.98,212.7 251.5,212.7 252.02,212.71 252.55,212.93 253.07,213.18 253.6,213.27 254.14,213.05 254.68,212.86 255.22,212.92 255.77,213.07 256.31,213.26 256.85,213.55 257.38,213.83 257.9,213.99 258.48,214.06 259.04,214.09 259.59,213.97 260.14,213.84 260.69,213.68 261.24,213.51 261.8,213.37 262.3,213.58 262.8,213.84 263.3,214.14 263.8,214.52 264.3,214.89 264.8,215.16 265.3,215.24 265.8,215.29 266.35,215.24 266.88,215.13 267.4,214.98 267.93,214.81 268.48,214.63 269.07,214.54 269.7,214.58 270.19,214.64 270.71,214.94 271.27,215.27 271.84,215.47 272.42,215.47 273,215.46 273.57,215.19 274.12,214.91 274.63,214.93 275.1,215.28 275.69,215.62 276.2,215.58 276.66,215.41 277.1,215.2 277.55,214.88 278.04,214.55 278.6,214.28 279.09,214.22 279.61,214.2 280.17,214.18 280.74,214.14 281.31,214.11 281.89,213.86 282.45,213.56 282.99,213.4 283.5,213.46 284.03,213.48 284.54,213.22 285.03,212.82 285.51,212.43 285.97,212.08 286.44,211.76 286.91,211.44 287.4,211.37 287.9,211.38 288.4,211.4 288.9,211.27 289.4,211.13 289.9,211.07 290.4,211.31 290.9,211.53 291.4,211.54 291.9,211.24 292.4,210.92 292.91,210.62 293.41,210.35 293.91,210.07 294.39,209.89 294.86,209.74 295.3,209.59 295.85,209.08 296.37,208.53 296.86,208.05 297.34,208.02 297.82,208 298.3,207.97 298.79,207.88 299.27,207.82 299.75,207.69 300.23,207.38 300.71,207.04 301.2,206.7 301.62,206.4 302.05,206.06 302.48,205.74 302.92,205.52 303.35,205.31 303.78,205.1 304.2,204.81 304.69,204.49 305.19,204.18 305.68,204.12 306.17,204.08 306.64,204 307.1,203.49 307.67,202.86 308.25,202.35 308.8,202.06 309.27,201.81 309.6,201.7" fill="none" stroke="#000" stroke-width="1.45" stroke-linejoin="round" />
<polyline points="71.2,481.88 71.54,482.06 71.99,482.13 72.54,482.2 73.14,482.24 73.77,482.24 74.4,482.21 74.88,482.13 75.38,482.04 75.9,482.24 76.44,482.65 76.98,483.07 77.53,483.15 78.07,483.22 78.6,483.23 79.12,483.11 79.65,482.99 80.17,483 80.69,483.06 81.22,483.11 81.74,483.01 82.27,482.91 82.8,482.82 83.33,482.75 83.87,482.68 84.41,482.9 84.95,483.2 85.49,483.49 86.03,483.7 86.57,483.91 87.1,483.86 87.63,483.62 88.15,483.38 88.68,483.81 89.2,484.31 89.72,484.63 90.25,484.35 90.77,484.07 91.3,483.97 91.83,484.02 92.37,484.06 92.91,483.98 93.45,483.9 93.99,484.06 94.53,484.66 95.07,485.26 95.6,485.28 96.13,485.09 96.65,484.91 97.18,484.93 97.7,484.94 98.22,484.85 98.75,484.64 99.27,484.44 99.8,484.12 100.33,483.78 100.87,483.55 101.41,483.8 101.95,484.06 102.49,484.28 103.03,484.44 103.57,484.59 104.1,484.38 104.63,484.11 105.16,484.03 105.68,484.44 106.21,484.84 106.73,484.69 107.25,484.23 107.78,483.79 108.3,483.57 108.82,483.37 109.35,483.32 109.87,483.65 110.39,483.98 110.92,483.83 111.44,483.38 111.97,482.93 112.5,483.36 113.06,483.87 113.65,484.04 114.25,483.72 114.85,483.44 115.42,483.55 115.95,483.68 116.42,483.77 116.8,483.84 117.18,484.26 117.36,485.15 117.44,485.92 117.54,486.24 117.8,486.28 117.97,486.08 118.17,485.73 118.39,485.25 118.63,484.68 118.89,484.05 119.14,483.33 119.4,482.56 119.66,481.84 119.9,481.2 120.12,480.69 120.33,480.33 120.5,480.18 120.66,480.21 120.79,480.34 120.9,480.58 121,481.41 121.09,481.86 121.16,482.4 121.24,483.03 121.31,483.74 121.4,484.54 121.49,485.41 121.6,486.36 121.64,486.72 121.68,487.1 121.73,487.51 121.77,487.93 121.81,488.38 121.85,488.85 121.9,489.34 121.94,489.84 121.99,490.36 122.03,490.89 122.07,491.43 122.12,491.98 122.17,492.54 122.21,493.1 122.26,493.67 122.3,494.25 122.35,494.83 122.4,495.41 122.45,495.99 122.5,496.57 122.55,497.15 122.6,497.72 122.65,498.29 122.71,498.85 122.76,499.41 122.81,499.95 122.87,500.49 122.93,501.01 122.98,501.52 123.04,502.02 123.1,502.5 123.18,503.08 123.25,503.64 123.33,504.18 123.41,504.72 123.5,505.25 123.58,505.78 123.67,506.3 123.76,506.81 123.84,507.32 123.93,507.82 124.03,508.32 124.12,508.81 124.21,509.3 124.3,509.79 124.39,510.27 124.49,510.75 124.58,511.22 124.67,511.71 124.76,512.2 124.86,512.69 124.95,513.18 125.04,513.66 125.13,514.15 125.21,514.62 125.3,515.1 125.4,515.67 125.5,516.24 125.61,516.8 125.71,517.36 125.81,517.93 125.91,518.48 126.01,519.03 126.11,519.56 126.21,520.07 126.31,520.58 126.41,521.09 126.51,521.58 126.6,522.07 126.7,522.55 126.8,523.02 126.9,523.48 127,523.93 127.1,524.37 127.2,524.8 127.3,525.21 127.4,525.61 127.56,526.28 127.72,526.93 127.88,527.56 128.05,528.17 128.21,528.76 128.37,529.31 128.53,529.84 128.69,530.87 128.85,531.4 129.02,531.8 129.18,532.17 129.34,532.5 129.5,532.79 130.05,533.39 130.61,533.55 131.15,533.53 131.6,533.61 131.99,534.15 132.26,534.69 132.7,534.72 132.95,534.43 133.24,533.87 133.56,533.16 133.9,532.4 134.25,531.69 134.61,531.2 134.96,530.98 135.3,531.08 135.48,531.31 135.66,531.67 135.84,532.11 136.03,532.35 136.21,532.92 136.4,533.55 136.59,534.2 136.77,534.85 136.96,535.49 137.14,536.09 137.32,536.21 137.5,536.77 137.67,537.22 137.84,537.54 138,537.72 138.18,537.72 138.36,537.54 138.53,537.21 138.69,536.75 138.85,536.14 139.01,535.48 139.17,534.79 139.32,534.1 139.47,533.45 139.63,532.86 139.78,532.72 139.94,532.41 140.1,532.15 140.4,532 140.7,532.3 141,532.87 141.3,533.49 141.6,534.28 141.9,534.9 142.2,534.98 142.3,534.85 142.41,534.37 142.51,534.02 142.61,533.62 142.71,533.16 142.81,532.65 142.91,532.09 143.01,531.5 143.11,530.89 143.21,530.26 143.31,529.63 143.42,529 143.52,528.37 143.63,527.77 143.73,527.19 143.84,526.64 143.95,526.13 144.07,525.67 144.18,525.26 144.3,525.37 144.72,524.39 145.16,523.8 145.62,523.42 146.09,523.3 146.55,523.01 147,522.38 147.17,522.06 147.33,521.68 147.49,521.27 147.65,520.81 147.82,520.44 147.98,519.92 148.14,519.38 148.3,518.83 148.46,518.27 148.62,517.7 148.78,517.15 148.95,516.6 149.11,516.08 149.27,515.46 149.43,514.98 149.6,514.53 149.84,513.97 150.08,513.6 150.32,513.27 150.55,512.97 150.79,512.69 151.03,512.41 151.28,512.04 151.52,511.42 151.78,510.79 152.04,510.12 152.3,509.43 152.51,508.86 152.73,508.31 152.95,507.77 153.18,507.23 153.41,506.68 153.64,506.12 153.88,505.56 154.11,505.04 154.34,504.59 154.58,504.14 154.81,503.69 155.04,503.24 155.27,502.8 155.5,502.42 155.73,502.12 155.95,501.82 156.18,501.51 156.4,501.2 156.63,500.89 156.86,500.55 157.08,500.16 157.3,499.76 157.53,499.38 157.75,499 157.96,498.63 158.18,498.28 158.39,497.77 158.6,497.26 158.89,496.59 159.17,495.97 159.44,495.38 159.71,494.88 159.98,494.48 160.25,494.09 160.51,493.69 160.77,493.28 161.04,492.85 161.3,492.41 161.54,491.97 161.78,491.51 162.01,491.02 162.25,490.53 162.48,490.04 162.72,489.58 162.95,489.12 163.19,488.68 163.42,488.26 163.66,487.87 163.9,487.44 164.23,486.75 164.57,486.14 164.91,485.57 165.25,485.08 165.59,484.89 165.93,484.68 166.27,484.41 166.6,484.07 166.84,483.65 167.07,483.19 167.3,482.7 167.53,482.18 167.75,481.65 167.98,481.11 168.21,480.6 168.45,480.11 168.69,479.64 168.94,479.19 169.2,478.78 169.53,478.25 169.87,477.64 170.22,477.05 170.58,476.47 170.94,475.98 171.31,475.59 171.68,475.2 172.04,474.8 172.4,474.41 172.72,474.08 173.04,473.74 173.36,473.39 173.68,473.07 174,472.86 174.32,472.64 174.64,472.43 174.96,472.21 175.28,471.62 175.6,470.99 175.92,470.35 176.24,469.71 176.56,469.21 176.88,468.87 177.2,468.53 177.52,468.19 177.84,467.83 178.16,467.29 178.48,466.76 178.8,466.22 179.12,465.68 179.44,465.15 179.76,464.63 180.08,464.1 180.41,463.57 180.73,463.08 181.05,462.65 181.37,462.24 181.68,461.85 182,461.51 182.44,461.47 182.86,461.5 183.27,461.58 183.69,461.42 184.13,461.15 184.6,460.86 185.1,460.41 185.48,459.98 185.88,459.53 186.3,459.14 186.74,459 187.18,458.86 187.63,458.72 188.08,458.44 188.53,458.16 188.97,457.91 189.4,457.78 189.93,457.66 190.45,457.54 190.98,457.35 191.5,457.18 192.02,456.86 192.55,456.36 193.07,455.87 193.6,455.92 194.12,456.13 194.61,456.34 195.1,456.22 195.59,456.11 196.1,456 196.65,455.73 197.24,455.48 197.9,455.61 198.34,455.81 198.8,456.03 199.28,455.91 199.77,455.79 200.28,455.7 200.81,455.76 201.34,455.82 201.89,455.88 202.44,455.93 203,455.98 203.57,456.5 204.13,457.02 204.7,457.06 205.19,456.73 205.68,456.4 206.18,456.34 206.68,456.36 207.18,456.38 207.69,456.86 208.2,457.36 208.72,457.75 209.25,457.79 209.79,457.82 210.33,457.75 210.88,457.6 211.44,457.47 212.02,457.72 212.6,457.96 213.08,457.78 213.57,457.32 214.08,456.83 214.61,456.78 215.14,456.85 215.69,456.91 216.24,456.86 216.79,456.82 217.35,456.81 217.9,456.83 218.45,456.82 218.99,456.6 219.53,456.39 220.05,456.24 220.56,456.14 221.05,456.05 221.52,456.11 221.97,456.24 222.4,456.38 223.03,456.74 223.61,457.15 224.15,457.47 224.66,457.58 225.13,457.7 225.59,457.76 226.04,457.76 226.48,457.77 226.92,457.81 227.36,457.86 227.82,457.94 228.3,458.04 228.69,458.16 229.09,458.29 229.48,458.44 229.87,458.9 230.26,459.5 230.66,460.12 231.05,460.69 231.44,460.83 231.83,460.98 232.23,461.14 232.62,461.48 233.01,461.96 233.41,462.44 233.8,462.94 234.2,463.05 234.51,463.14 234.83,463.25 235.14,463.37 235.46,463.77 235.77,464.23 236.09,464.71 236.41,465.19 236.72,465.74 237.04,466.4 237.36,467.06 237.68,467.73 237.99,468.4 238.31,468.83 238.63,469.25 238.94,469.68 239.26,470.1 239.57,470.54 239.89,471 240.2,471.45 240.51,471.9 240.83,472.33 241.14,472.65 241.45,472.97 241.76,473.28 242.07,473.6 242.38,473.94 242.69,474.29 243,474.64 243.31,475 243.62,475.36 243.93,475.83 244.24,476.3 244.55,476.77 244.86,477.24 245.17,477.73 245.48,478.25 245.79,478.76 246.1,479.27 246.41,479.77 246.72,480 247.03,480.24 247.34,480.47 247.65,480.71 247.96,481.1 248.27,481.61 248.58,482.12 248.89,482.64 249.21,483.14 249.52,483.48 249.83,483.81 250.14,484.13 250.45,484.45 250.76,484.9 251.07,485.47 251.38,486.03 251.69,486.59 252,487.13 252.38,487.24 252.76,487.33 253.16,487.42 253.56,487.76 253.97,488.49 254.38,489.22 254.79,489.94 255.19,490.46 255.58,490.96 255.97,491.44 256.34,491.72 256.69,491.68 257.03,491.63 257.34,491.59 257.64,491.61 257.9,492.03 258.54,493.02 258.96,493.59 259.26,493.81 259.56,494.02 260,494.41 260.31,494.73 260.65,495.15 261.01,495.63 261.38,496.14 261.76,496.65 262.15,496.96 262.54,497.23 262.92,497.44 263.3,497.6 263.78,497.68 264.27,497.67 264.76,497.7 265.24,497.88 265.73,498.05 266.22,498.34 266.7,498.79 267.18,499.29 267.65,499.63 268.12,499.82 268.59,500.03 269.06,500.01 269.53,499.81 270,499.59 270.55,499.6 271.1,499.75 271.64,499.9 272.19,500.05 272.74,500.2 273.3,500.33 273.86,500.44 274.43,500.58 275,501.02 275.57,501.44 276.14,501.54 276.7,501.4 277.27,501.26 277.84,501.65 278.41,502 278.96,501.94 279.5,501.71 280,501.55 280.54,501.25 281.02,501.03 281.48,500.95 281.96,501.31 282.5,501.72 283,501.97 283.54,502.02 284.09,502.09 284.66,502.36 285.23,502.66 285.8,502.83 286.35,502.78 286.9,502.72 287.45,502.75 288.01,502.8 288.59,502.87 289.2,502.98 289.7,503.09 290.23,503.31 290.79,503.57 291.36,503.85 291.91,504.17 292.43,504.45 292.9,504.5 293.3,504.41 293.86,504.06 294.2,503.48 294.52,502.83 295,502.2 295.44,501.88 295.92,502.19 296.44,502.57 297.01,502.85 297.63,502.91 298.3,502.89 298.74,502.72 299.22,502.51 299.73,502.29 300.25,502.11 300.79,501.92 301.33,501.44 301.86,500.79 302.38,500.19 302.86,500.3 303.3,500.48 303.88,500.73 304.43,500.59 304.94,500.53 305.42,500.79 305.87,501.36 306.3,501.87 306.7,502.16 307.36,501.78 307.94,501.39 308.41,501.56 308.75,501.74" fill="none" stroke="#b4b4b4" stroke-width="1.25" stroke-linejoin="round" />
<polyline points="71.2,484.51 71.56,484.34 72.05,484.32 72.64,484.29 73.26,484.84 73.86,485.57 74.4,485.81 74.97,485.33 75.51,484.84 76.02,484.76 76.52,484.79 77,484.89 77.45,485.44 77.87,486.09 78.28,486.75 78.68,487.04 79.1,487 79.54,486.67 79.98,486.31 80.42,486.11 80.86,485.93 81.3,485.75 81.84,485.11 82.39,484.56 82.91,484.62 83.4,485.14 83.82,485.89 84.2,486.53 84.58,486.82 85,486.7 85.31,486.3 85.62,485.95 85.95,485.57 86.3,485.15 86.68,484.76 87.1,484.48 87.5,484.31 87.93,484.15 88.39,483.88 88.87,483.45 89.35,483.05 89.83,482.83 90.3,482.79 90.84,482.84 91.39,482.78 91.94,482.7 92.48,482.59 93,482.22 93.5,481.8 94.07,481.64 94.61,481.86 95.12,482.04 95.62,481.73 96.1,481.51 96.55,481.51 96.98,481.69 97.38,481.96 97.79,482.23 98.2,482.47 98.71,482.7 99.21,482.88 99.73,483.36 100.3,484.08 100.71,484.66 101.14,484.96 101.58,485.17 102.04,485.34 102.51,485.66 103,485.96 103.49,486.12 103.99,485.93 104.51,485.6 105.04,485.23 105.6,485.05 106.2,484.9 106.62,484.64 107.06,484.22 107.52,483.77 107.99,483.43 108.47,483.25 108.96,483.1 109.44,482.9 109.92,482.68 110.4,482.5 110.94,482.25 111.5,481.97 112.06,481.8 112.62,482.26 113.17,482.73 113.71,482.72 114.22,482.39 114.7,482.07 115.32,482.34 115.94,482.76 116.52,483.06 117.04,483.27 117.48,483.44 117.8,482.93 118.2,468.52 118.6,482.88 119.7,482.77 120.5,500.2 120.7,489.93 126.9,547.95 126.96,547.65 127.03,547.78 127.11,548.3 127.21,548.25 127.31,548.34 127.42,548.15 127.54,548.01 127.66,546.92 127.78,545.16 127.9,542.58 127.91,542.3 127.92,542 127.93,541.69 127.94,541.37 127.96,541.03 127.97,540.68 127.98,540.31 127.99,539.93 128,539.54 128.01,539.14 128.03,538.72 128.04,538.3 128.05,537.86 128.06,537.41 128.07,536.95 128.09,536.48 128.1,536 128.11,535.51 128.12,535.01 128.13,534.5 128.15,533.98 128.16,533.45 128.17,532.92 128.18,532.38 128.2,531.82 128.21,531.27 128.22,530.7 128.24,530.13 128.25,529.55 128.26,528.96 128.27,528.37 128.29,527.77 128.3,527.17 128.31,526.56 128.33,525.94 128.34,525.33 128.35,524.7 128.37,524.08 128.38,523.45 128.39,522.81 128.41,522.17 128.42,521.54 128.43,520.89 128.45,520.25 128.46,519.6 128.47,518.95 128.49,518.3 128.5,517.65 128.51,517 128.53,516.35 128.54,515.7 128.55,515.05 128.57,514.39 128.58,513.74 128.59,513.09 128.61,512.44 128.62,511.8 128.63,511.15 128.65,510.51 128.66,509.87 128.67,509.23 128.69,508.6 128.7,507.96 128.72,507.34 128.73,506.71 128.74,506.09 128.76,505.48 128.77,504.87 128.78,504.26 128.8,503.66 128.81,503.07 128.82,502.48 128.84,501.9 128.85,501.33 128.86,500.76 128.88,500.2 128.89,499.65 128.9,499.1 128.92,498.57 128.93,498.04 128.94,497.52 128.96,497.01 128.97,496.51 128.98,496.01 128.99,495.53 129.01,495.06 129.02,494.6 129.03,494.15 129.05,493.71 129.06,493.28 129.07,492.86 129.08,492.45 129.1,492.06 129.11,491.68 129.12,491.31 129.13,490.96 129.15,490.61 129.16,490.28 129.17,489.97 129.18,489.67 129.19,489.38 129.21,489.11 129.22,488.86 129.23,488.62 129.24,488.39 129.25,488.18 129.27,487.99 129.28,487.81 129.29,487.65 129.3,487.51 129.32,487.25 129.35,487.05 129.37,486.92 129.4,486.54 129.42,486.54 129.45,486.59 129.47,486.98 129.5,487.13 129.52,487.33 129.54,487.58 129.57,487.88 129.59,488.22 129.61,488.6 129.64,489.03 129.66,489.49 129.68,489.98 129.7,490.51 129.73,491.07 129.75,491.66 129.77,492.28 129.79,492.93 129.82,493.59 129.84,494.28 129.86,494.98 129.88,495.71 129.9,496.44 129.92,497.19 129.95,497.95 129.97,498.72 129.99,499.5 130.01,500.27 130.03,501.05 130.05,501.83 130.07,502.61 130.09,503.39 130.11,504.15 130.14,504.91 130.16,505.66 130.18,506.4 130.2,507.12 130.22,507.81 130.24,508.49 130.26,509.15 130.28,509.79 130.3,510.4 130.32,510.98 130.34,511.53 130.36,512.05 130.38,512.54 130.4,512.99 130.43,513.59 130.46,514.19 130.48,514.79 130.51,515.4 130.54,516 130.57,516.6 130.6,517.21 130.63,517.8 130.66,518.4 130.69,518.99 130.72,519.58 130.75,520.16 130.78,520.74 130.81,521.31 130.83,521.87 130.86,522.43 130.89,522.98 130.92,523.52 130.95,524.04 130.97,524.56 131,525.07 131.02,525.57 131.05,526.05 131.07,526.52 131.1,526.97 131.12,527.42 131.14,527.84 131.16,528.25 131.18,528.65 131.2,529.02 131.22,529.38 131.24,529.72 131.26,530.04 131.27,530.34 131.29,530.63 131.3,530.42 131.3,530.63 131.31,530.37 131.31,530.1 131.31,529.83 131.31,529.55 131.32,529.27 131.32,528.98 131.32,528.69 131.33,528.39 131.33,528.08 131.33,527.77 131.34,527.45 131.34,527.13 131.34,526.8 131.35,526.47 131.35,526.13 131.35,525.79 131.36,525.44 131.36,525.09 131.37,524.73 131.37,524.36 131.37,524 131.38,523.62 131.38,523.24 131.39,522.86 131.39,522.47 131.39,522.08 131.4,521.68 131.4,521.28 131.41,520.88 131.41,520.47 131.42,520.05 131.42,519.63 131.42,519.21 131.43,518.78 131.43,518.35 131.44,517.91 131.44,517.47 131.45,517.03 131.45,516.58 131.46,516.13 131.46,515.67 131.47,515.21 131.47,514.74 131.48,514.28 131.48,513.8 131.49,513.33 131.49,512.85 131.5,512.37 131.5,511.88 131.51,511.39 131.51,510.9 131.52,510.4 131.52,509.9 131.53,509.4 131.53,508.89 131.54,508.39 131.54,507.87 131.55,507.36 131.55,506.84 131.56,506.32 131.56,505.79 131.57,505.27 131.57,504.74 131.58,504.2 131.59,503.67 131.59,503.13 131.6,502.59 131.6,502.05 131.61,501.51 131.61,500.96 131.62,500.41 131.63,499.86 131.63,499.31 131.64,498.75 131.64,498.19 131.65,497.63 131.66,497.07 131.66,496.51 131.67,495.94 131.67,495.37 131.68,494.8 131.68,494.23 131.69,493.66 131.7,493.08 131.7,492.51 131.71,491.93 131.72,491.35 131.72,490.77 131.73,490.18 131.73,489.6 131.74,489.01 131.75,488.43 131.75,487.84 131.76,487.25 131.76,486.66 131.77,486.07 131.78,485.47 131.78,484.88 131.79,484.29 131.8,483.69 131.8,483.09 131.81,482.5 131.81,481.9 131.82,481.3 131.83,480.7 131.83,480.1 131.84,479.5 131.85,478.9 131.85,478.29 131.86,477.69 131.87,477.09 131.87,476.49 131.88,475.88 131.89,475.28 131.89,474.68 131.9,474.07 131.9,473.47 131.91,472.87 131.92,472.26 131.92,471.66 131.93,471.05 131.94,470.45 131.94,469.85 131.95,469.25 131.96,468.64 131.96,468.04 131.97,467.44 131.98,466.84 131.98,466.24 131.99,465.64 132,465.04 132,464.44 132.01,463.84 132.01,463.25 132.02,462.65 132.03,462.05 132.03,461.46 132.04,460.87 132.05,460.27 132.05,459.68 132.06,459.09 132.07,458.5 132.07,457.92 132.08,457.33 132.09,456.75 132.09,456.16 132.1,455.58 132.1,455 132.11,454.42 132.12,453.84 132.12,453.27 132.13,452.69 132.14,452.12 132.14,451.55 132.15,450.98 132.15,450.42 132.16,449.85 132.17,449.29 132.17,448.73 132.18,448.17 132.19,447.61 132.19,447.06 132.2,446.51 132.2,445.96 132.21,445.41 132.22,444.87 132.22,444.32 132.23,443.78 132.24,443.25 132.24,442.71 132.25,442.18 132.25,441.65 132.26,441.13 132.27,440.6 132.27,440.08 132.28,439.56 132.28,439.05 132.29,438.54 132.29,438.03 132.3,437.52 132.31,437.02 132.31,436.52 132.32,436.03 132.32,435.53 132.33,435.05 132.34,434.56 132.34,434.08 132.35,433.6 132.35,433.12 132.36,432.65 132.36,432.18 132.37,431.72 132.37,431.26 132.38,430.8 132.38,430.35 132.39,429.9 132.4,429.46 132.4,429.02 132.41,428.58 132.41,428.15 132.42,427.72 132.42,427.3 132.43,426.88 132.43,426.46 132.44,426.05 132.44,425.65 132.45,425.24 132.45,424.85 132.46,424.45 132.46,424.07 132.47,423.68 132.47,423.3 132.48,422.93 132.48,422.56 132.49,422.2 132.49,421.84 132.5,421.48 132.5,421.13 132.51,420.23 132.52,419.34 132.53,418.46 132.55,417.59 132.56,416.73 132.57,415.88 132.58,415.03 132.59,414.2 132.6,413.37 132.61,412.55 132.62,411.74 132.63,410.95 132.64,410.16 132.65,409.38 132.66,408.61 132.67,407.84 132.68,407.09 132.69,406.35 132.7,405.62 132.71,404.89 132.72,404.18 132.73,403.47 132.74,402.78 132.75,402.09 132.76,401.41 132.76,400.75 132.77,400.09 132.78,399.44 132.79,398.8 132.8,398.17 132.81,397.55 132.82,396.94 132.82,396.34 132.83,395.75 132.84,395.17 132.85,394.6 132.86,394.04 132.87,393.49 132.87,392.94 132.88,392.41 132.89,391.89 132.9,391.38 132.91,390.88 132.92,390.38 132.93,389.9 132.93,389.43 132.94,388.96 132.95,388.51 132.96,388.07 132.97,387.63 132.98,387.21 132.98,386.8 132.99,386.4 133,386 133.01,385.62 133.02,385.24 133.03,384.88 133.04,384.52 133.04,384.18 133.05,383.84 133.06,383.52 133.07,383.2 133.08,382.9 133.09,382.6 133.1,382.32 133.11,382.05 133.12,381.78 133.13,381.53 133.14,381.29 133.15,381.06 133.16,380.84 133.17,380.62 133.18,380.42 133.19,380.23 133.2,380.05 133.21,379.88 133.22,379.72 133.23,379.58 133.24,379.44 133.25,379.31 133.27,379.19 133.28,379.09 133.29,378.99 133.3,378.91 133.32,378.81 133.34,379.17 133.35,379.15 133.37,379.17 133.39,378.83 133.41,378.93 133.43,379.06 133.45,379.23 133.47,379.43 133.48,379.66 133.5,379.92 133.52,380.21 133.54,380.54 133.56,380.89 133.58,381.26 133.6,381.67 133.63,382.09 133.65,382.55 133.67,383.02 133.69,383.52 133.71,384.03 133.73,384.57 133.75,385.12 133.77,385.69 133.79,386.28 133.82,386.88 133.84,387.5 133.86,388.13 133.88,388.77 133.9,389.42 133.92,390.09 133.95,390.76 133.97,391.44 133.99,392.12 134.01,392.82 134.03,393.51 134.06,394.21 134.08,394.92 134.1,395.62 134.12,396.33 134.14,397.03 134.17,397.73 134.19,398.43 134.21,399.13 134.23,399.82 134.25,400.51 134.27,401.19 134.29,401.86 134.32,402.52 134.34,403.17 134.36,403.81 134.38,404.44 134.4,405.05 134.42,405.66 134.44,406.24 134.46,406.81 134.48,407.37 134.5,407.9 134.52,408.4 134.54,408.91 134.55,409.44 134.57,409.99 134.59,410.56 134.61,411.14 134.63,411.74 134.64,412.35 134.66,412.98 134.68,413.61 134.7,414.26 134.71,414.92 134.73,415.59 134.75,416.26 134.76,416.95 134.78,417.64 134.8,418.33 134.82,419.03 134.83,419.73 134.85,420.44 134.87,421.15 134.88,421.86 134.9,422.56 134.92,423.27 134.93,423.97 134.95,424.68 134.97,425.37 134.98,426.07 135,426.75 135.02,427.43 135.04,428.1 135.05,428.76 135.07,429.42 135.09,430.06 135.1,430.69 135.12,431.31 135.14,431.91 135.15,432.5 135.17,433.07 135.19,433.63 135.21,434.17 135.22,434.69 135.24,435.2 135.26,435.68 135.27,436.14 135.29,436.58 135.31,436.99 135.33,437.38 135.34,437.75 135.36,438.09 135.38,438.4 135.4,438.69 135.42,438.94 135.43,439.17 135.45,439.36 135.47,439.53 135.49,439.66 135.51,439.76 135.52,439.84 135.54,439.87 135.56,439.86 135.58,439.79 135.6,439.71 135.61,439.62 135.63,439.52 135.64,439.39 135.65,439.25 135.67,439.09 135.68,438.91 135.7,438.71 135.71,438.49 135.72,438.25 135.74,438 135.75,437.73 135.76,437.44 135.78,437.14 135.79,436.82 135.81,436.49 135.82,436.14 135.84,435.78 135.85,435.4 135.86,435 135.88,434.6 135.89,434.18 135.91,433.75 135.92,433.3 135.94,432.85 135.95,432.38 135.97,431.9 135.98,431.41 136,430.91 136.01,430.4 136.03,429.87 136.04,429.34 136.06,428.8 136.07,428.25 136.09,427.7 136.1,427.13 136.12,426.56 136.13,425.98 136.15,425.39 136.16,424.8 136.18,424.2 136.19,423.6 136.21,422.99 136.22,422.37 136.24,421.75 136.25,421.13 136.26,420.5 136.28,419.87 136.29,419.23 136.31,418.59 136.32,417.95 136.34,417.31 136.35,416.67 136.37,416.02 136.38,415.38 136.4,414.73 136.41,414.08 136.43,413.44 136.44,412.79 136.46,412.15 136.47,411.5 136.49,410.86 136.5,410.22 136.52,409.59 136.53,408.95 136.55,408.32 136.56,407.69 136.58,407.07 136.59,406.45 136.61,405.84 136.62,405.23 136.64,404.62 136.65,404.02 136.66,403.43 136.68,402.85 136.69,402.27 136.71,401.7 136.72,401.13 136.74,400.58 136.75,400.03 136.76,399.49 136.78,398.96 136.79,398.44 136.8,397.94 136.82,397.44 136.83,396.95 136.85,396.47 136.86,396 136.87,395.55 136.89,395.11 136.9,394.68 136.92,394.06 136.94,393.44 136.96,392.81 136.98,392.17 137,391.53 137.01,390.88 137.03,390.23 137.05,389.58 137.07,388.92 137.09,388.26 137.11,387.6 137.12,386.94 137.14,386.28 137.16,385.61 137.18,384.95 137.2,384.28 137.21,383.62 137.23,382.96 137.25,382.31 137.27,381.65 137.28,381 137.3,380.36 137.32,379.71 137.34,379.08 137.35,378.44 137.37,377.82 137.39,377.2 137.4,376.58 137.42,375.98 137.44,375.38 137.46,374.79 137.47,374.21 137.49,373.64 137.51,373.08 137.52,372.53 137.54,371.99 137.56,371.47 137.58,370.95 137.59,370.45 137.61,369.96 137.63,369.48 137.64,369.02 137.66,368.58 137.68,368.15 137.7,367.73 137.71,367.33 137.73,366.95 137.75,366.59 137.77,366.24 137.78,365.91 137.8,365.61 137.82,365.32 137.84,365.05 137.85,364.8 137.87,364.57 137.89,364.37 137.91,364.18 137.93,364.02 137.94,363.89 137.96,363.77 137.98,363.68 138,363.69 138.02,363.65 138.05,363.66 138.07,363.71 138.09,363.72 138.12,363.85 138.14,364.03 138.17,364.24 138.19,364.49 138.21,364.77 138.24,365.09 138.26,365.45 138.28,365.83 138.31,366.24 138.33,366.68 138.36,367.15 138.38,367.64 138.4,368.16 138.43,368.7 138.45,369.26 138.48,369.84 138.5,370.43 138.53,371.05 138.55,371.67 138.58,372.31 138.6,372.97 138.62,373.63 138.65,374.3 138.67,374.98 138.7,375.66 138.72,376.35 138.75,377.04 138.77,377.73 138.8,378.42 138.82,379.11 138.85,379.79 138.87,380.47 138.9,381.15 138.92,381.81 138.95,382.47 138.97,383.12 139,383.75 139.02,384.37 139.05,384.97 139.07,385.56 139.1,386.13 139.12,386.68 139.15,387.2 139.17,387.71 139.2,388.19 139.23,388.74 139.26,389.3 139.29,389.87 139.32,390.44 139.35,391.03 139.38,391.62 139.41,392.22 139.45,392.82 139.48,393.43 139.51,394.03 139.54,394.64 139.57,395.25 139.6,395.87 139.64,396.48 139.67,397.08 139.7,397.69 139.73,398.29 139.77,398.89 139.8,399.48 139.83,400.06 139.86,400.64 139.89,401.21 139.93,401.77 139.96,402.31 139.99,402.85 140.02,403.37 140.05,403.88 140.09,404.37 140.12,404.85 140.15,405.31 140.18,405.75 140.21,406.18 140.24,406.59 140.27,406.97 140.3,407.34 140.33,407.69 140.36,408.01 140.39,408.31 140.42,408.59 140.44,408.84 140.47,409.07 140.5,409.26 140.61,409.81 140.71,410.09 140.81,409.76 140.9,409.27 140.99,408.56 141.09,407.69 141.18,406.72 141.28,405.72 141.39,404.73 141.5,403.84 141.56,403.44 141.61,403 141.67,402.53 141.73,402.01 141.79,401.48 141.86,400.91 141.92,400.33 141.98,399.74 142.05,399.13 142.11,398.53 142.18,397.92 142.25,397.32 142.31,396.73 142.38,396.15 142.45,395.59 142.51,395.06 142.58,394.56 142.65,394.09 142.71,393.66 142.77,393.28 142.84,392.94 142.9,392.52 143.56,392.02 144.2,392.83 144.81,392.35 145.5,391.71 145.95,391.52 146.46,391.36 146.98,391.26 147.5,391.12 148,391.18 148.5,391.37 149,391.63 149.5,391.93 149.9,392.24 150.3,392.7 150.71,393.2 151.11,393.75 151.5,394.23 151.78,394.58 152.05,394.98 152.32,395.42 152.58,395.87 152.85,396.24 153.12,396.6 153.4,396.94 153.67,397.29 153.94,397.65 154.21,398.35 154.49,399.12 154.77,399.9 155.08,400.66 155.4,401.39 155.81,401.46 156.25,401.41 156.71,401.31 157.18,401.54 157.65,401.93 158.1,402.48 158.34,402.84 158.59,403.22 158.83,403.64 159.08,404.09 159.32,404.57 159.56,405.06 159.8,405.7 160.04,406.38 160.27,407.06 160.49,407.74 160.7,408.41 160.87,408.98 161.04,408.99 161.2,409.5 161.36,410.02 161.51,410.54 161.66,411.07 161.81,411.61 161.96,412.14 162.1,412.67 162.25,413.18 162.4,413.69 162.55,414.16 162.7,415.07 162.88,415.51 163.06,415.91 163.24,416.3 163.42,416.67 163.6,417.04 163.78,417.4 163.97,417.82 164.15,418.26 164.33,418.72 164.51,419.2 164.7,419.7 164.85,420.12 164.99,420.64 165.14,421.08 165.28,421.52 165.43,421.96 165.58,422.41 165.72,422.87 165.87,423.34 166.02,423.81 166.18,424.3 166.33,424.8 166.48,425.3 166.64,425.83 166.8,426.41 166.93,426.87 167.06,427.34 167.19,427.82 167.32,428.32 167.46,428.82 167.59,429.34 167.73,429.86 167.87,430.38 168.01,430.91 168.14,431.39 168.28,431.87 168.42,432.35 168.55,432.83 168.69,433.3 168.82,433.77 168.95,434.23 169.08,434.68 169.2,435.13 169.34,435.62 169.47,436.12 169.6,436.64 169.74,437.16 169.86,437.67 169.99,438.17 170.12,438.67 170.24,439.17 170.37,439.67 170.49,440.16 170.61,440.65 170.73,441.14 170.85,441.61 170.97,442.08 171.08,442.54 171.2,443 171.33,443.51 171.44,444.01 171.55,444.5 171.65,444.98 171.74,445.45 171.84,445.92 171.94,446.39 172.04,446.86 172.15,447.34 172.27,447.83 172.4,448.33 172.55,448.85 172.71,449.39 172.9,449.74 173.05,450.17 173.22,450.61 173.4,451.06 173.58,451.53 173.78,452.01 173.99,452.5 174.2,453 174.41,453.51 174.63,454.02 174.85,454.52 175.08,455.01 175.3,455.47 175.52,455.92 175.73,456.36 175.94,456.8 176.15,457.23 176.34,457.65 176.53,458.06 176.7,458.45 176.92,458.97 177.13,459.46 177.33,459.93 177.53,460.39 177.71,460.83 177.89,461.33 178.07,461.89 178.24,462.45 178.41,463.01 178.58,463.58 178.76,464.16 178.93,464.75 179.11,465.37 179.3,465.99 179.46,466.39 179.61,466.87 179.77,467.36 179.92,467.87 180.07,468.38 180.23,468.9 180.38,469.42 180.54,469.95 180.7,470.47 180.85,470.98 181.01,471.5 181.17,472.01 181.34,472.51 181.5,473.01 181.66,473.73 181.83,474.19 182,474.64 182.18,475.04 182.37,475.43 182.56,475.82 182.74,476.21 182.94,476.59 183.13,476.96 183.32,477.33 183.52,477.82 183.72,478.39 183.91,478.96 184.11,479.52 184.31,480.08 184.51,480.64 184.7,481.19 184.9,481.6 185.1,481.89 185.32,482.21 185.54,482.52 185.76,482.83 185.97,483.12 186.19,483.41 186.41,483.93 186.63,484.46 186.85,484.99 187.07,485.52 187.3,486.06 187.54,486.61 187.78,487.19 188.04,487.78 188.3,488.39 188.53,488.91 188.76,489.43 189,489.97 189.25,490.42 189.5,490.88 189.76,491.34 190.02,491.81 190.29,492.28 190.55,492.65 190.82,492.96 191.08,493.26 191.35,493.57 191.61,493.88 191.86,494.25 192.11,494.8 192.36,495.35 192.6,495.89 192.85,496.47 193.09,497.05 193.33,497.53 193.57,497.93 193.8,498.33 194.03,498.74 194.26,499.14 194.49,499.54 194.71,499.98 194.94,500.46 195.16,500.93 195.39,501.39 195.61,501.83 195.84,502.26 196.07,502.67 196.3,503.06 196.63,503.59 196.96,504.09 197.28,504.56 197.6,505.08 197.93,505.62 198.25,506.14 198.58,506.65 198.92,507.06 199.27,507.29 199.63,507.52 200,507.75 200.39,507.95 200.79,508.13 201.2,508.29 201.63,508.45 202.06,508.84 202.49,509.23 202.93,509.61 203.38,509.84 203.82,510.06 204.26,510.27 204.7,510.43 205.14,510.55 205.59,510.67 206.05,510.98 206.5,511.47 206.96,511.95 207.42,512.34 207.88,512.63 208.32,512.92 208.76,513.17 209.19,513.36 209.6,513.57 210,513.8 210.38,514.28 210.76,514.78 211.13,515.28 211.48,515.66 211.84,515.66 212.19,515.66 212.54,515.66 212.89,515.79 213.24,516.34 213.6,516.87 214.01,517.47 214.45,517.99 214.9,518.45 215.35,518.9 215.8,519.24 216.23,519.45 216.62,519.64 216.97,519.82 217.27,520 217.5,520.15 217.74,519.86 218.05,519.47 218.42,519.02 218.84,518.82 219.28,518.62 219.74,518.43 220.2,517.91 220.63,517.39 221.04,516.96 221.4,516.66 222.02,516.42 222.57,516.49 223.08,516.64 223.58,516.72 224.1,516.67 224.46,516.8 224.79,516.76 225.11,516.62 225.45,516.39 225.82,515.64 226.27,514.92 226.8,514.26 227.2,514.06 227.63,513.9 228.1,513.77 228.6,513.82 229.12,513.93 229.65,514.04 230.19,514.12 230.73,514.18 231.27,514.39 231.79,514.73 232.3,515.02 232.8,514.64 233.32,514.06 233.85,513.48 234.38,513.31 234.91,513.11 235.43,512.84 235.93,512.49 236.42,512.17 236.88,512.05 237.31,512.07 237.7,512.12 238.43,512.09 239.01,512.09 239.51,512.22 239.99,512.43 240.5,512.4 240.84,512.23 241.16,512.03 241.48,511.76 241.8,511.43 242.13,511.1 242.46,510.72 242.82,510.37 243.2,510.09 243.59,509.88 243.99,509.58 244.4,509.3 244.82,509.03 245.27,508.56 245.75,507.94 246.25,507.29 246.8,507.12 247.24,507.14 247.72,507.16 248.24,507.26 248.78,507.38 249.33,507.32 249.88,506.65 250.43,506.02 250.95,505.82 251.44,505.84 251.9,505.89 252.3,506.02 252.9,506.41 253.37,506.95 253.77,507.38 254.14,507.81 254.53,508.15 255,508.4 255.47,508.59 255.97,508.68 256.49,508.58 257.02,508.32 257.55,508.05 258.08,507.68 258.6,507.36 259.12,507.08 259.65,506.83 260.18,506.58 260.7,506.42 261.2,506.33 261.67,506.28 262.1,506.28 262.7,506.52 263.19,506.95 263.65,507.14 264.2,506.9 264.46,506.6 264.74,506.3 265.04,506.05 265.34,505.74 265.65,505.41 265.96,505.08 266.26,504.45 266.56,503.83 266.84,503.31 267.1,502.93 267.65,502.88 268.12,503.63 268.61,504.5 269.2,504.81 269.67,504.67 270.18,504.45 270.72,503.97 271.29,503.46 271.88,503.28 272.5,503.55 272.99,503.83 273.53,503.99 274.08,504.18 274.65,504.19 275.21,503.93 275.75,503.65 276.25,503.82 276.7,503.92 277.09,503.87 277.44,503.45 277.74,502.86 278.03,502.23 278.31,501.58 278.59,500.93 278.88,500.69 279.2,500.55 279.59,500.47 280,500.4 280.41,499.65 280.84,498.92 281.26,498.21 281.68,497.98 282.1,498.01 282.58,498.09 283.05,498.14 283.53,498.16 284,498.22 284.49,498.13 285,497.95 285.53,497.81 286.07,497.47 286.62,497.11 287.18,496.91 287.74,497.06 288.3,497.12 288.78,496.78 289.28,496.3 289.78,495.77 290.27,495.53 290.76,495.3 291.24,495.09 291.7,495.05 292.15,495 292.59,494.93 293.02,494.58 293.44,494.23 293.84,493.91 294.23,493.42 294.6,492.85 295.15,492.07 295.62,491.78 296.11,491.89 296.7,492.07 297.19,492.17 297.74,492.28 298.32,492.31 298.91,492 299.48,491.74 300,492.07 300.46,492.61 300.89,493.23 301.3,493.7 301.7,494.09 302.09,494.42 302.5,494.59 303.01,494.41 303.52,494.09 304.03,493.75 304.53,493.48 305,493.32 305.56,493.63 306.1,494.21 306.62,494.72 307.1,494.57 307.58,494.08 308.06,493.39 308.46,492.71 308.75,492.24" fill="none" stroke="#000" stroke-width="1.45" stroke-linejoin="round" />
<polyline points="70.7,797.7 70.98,797.77 71.29,797.86 71.65,798 72.04,798.19 72.47,798.39 72.92,798.61 73.4,798.84 73.91,799.09 74.44,799.12 74.98,798.86 75.55,798.6 76.12,798.64 76.71,798.71 77.3,798.83 77.89,799 78.49,799.21 79.09,799.66 79.68,800.1 80.26,799.93 80.84,799.61 81.4,799.56 81.94,800 82.47,800.43 82.97,800.55 83.45,800.56 83.9,800.57 84.49,800.33 85.06,800.04 85.61,799.98 86.14,800.27 86.66,800.55 87.17,800.62 87.67,800.6 88.16,800.58 88.64,800.59 89.12,800.59 89.59,800.59 90.06,800.92 90.53,801.24 90.99,801.57 91.46,801.1 91.94,800.62 92.42,800.14 92.9,800.11 93.4,800.07 93.9,800.14 94.4,800.66 94.9,801.17 95.41,801.34 95.91,801.01 96.41,800.68 96.92,800.47 97.42,800.32 97.92,800.18 98.43,800.19 98.93,800.23 99.43,800.27 99.93,800.26 100.43,800.24 100.93,800.3 101.42,800.6 101.92,800.9 102.41,800.88 102.9,800.43 103.42,799.95 103.95,799.76 104.48,799.72 105.01,799.68 105.55,799.86 106.09,800.03 106.63,800.1 107.16,800.03 107.69,799.96 108.21,800.09 108.73,800.29 109.23,800.46 109.73,800.35 110.21,800.26 110.68,800.13 111.14,799.86 111.58,799.61 112,799.37 112.66,799.28 113.3,799.22 113.91,799.66 114.5,800.19 115.06,800.56 115.58,800.77 116.08,800.95 116.54,800.68 116.97,800.27 117.35,799.86 117.7,799.63 118.27,799.79 118.61,799.55 118.81,799.14 118.97,798.8 119.2,798.61 119.65,798.72 120.09,799.23 120.6,800.14 120.75,800.43 120.9,800.77 121.06,801.16 121.22,801.59 121.38,801.77 121.56,802.28 121.73,803.01 121.91,803.47 122.1,803.91 122.3,804.33 122.49,804.73 122.7,805.1 122.93,805.48 123.18,805.86 123.43,806.52 123.7,807.2 123.96,807.88 124.24,808.55 124.51,809.21 124.79,809.7 125.06,810.1 125.33,810.47 125.6,810.8 126.02,811.27 126.43,811.51 126.85,811.69 127.26,811.8 127.68,812.11 128.09,812.43 128.5,812.57 128.78,812.55 129.05,812.18 129.32,811.7 129.59,811.15 129.86,810.55 130.13,809.91 130.4,809.3 130.69,808.7 130.99,808.11 131.3,807.53 131.55,807.09 131.81,806.75 132.08,806.44 132.35,806.12 132.63,805.79 132.91,805.46 133.19,805.05 133.48,804.6 133.77,804.15 134.05,803.68 134.34,803.21 134.62,802.74 134.9,802.27 135.13,801.87 135.36,801.46 135.59,801.03 135.83,800.59 136.07,800.19 136.31,799.78 136.55,799.36 136.79,798.95 137.02,798.53 137.25,798.12 137.48,797.7 137.7,797.3 137.91,796.9 138.12,796.52 138.31,796.16 138.5,795.82 138.78,795.26 139.04,794.68 139.29,794.1 139.52,793.53 139.74,793.01 139.94,792.53 140.14,792.11 140.33,791.78 140.52,791.55 140.7,791.45 140.9,791.58 141.07,791.39 141.22,791.99 141.36,792.7 141.5,793.41 141.66,794.06 141.86,795.15 142.1,795.38 142.38,795.34 142.68,795.12 143.01,794.72 143.36,794.19 143.73,793.6 144.13,793.01 144.55,792.34 145,791.72 145.44,791.19 145.92,790.73 146.43,790.33 146.96,789.93 147.49,789.89 148.03,789.92 148.55,789.91 149.04,789.75 149.5,789.7 149.96,789.82 150.37,790.13 150.75,790.53 151.12,791 151.49,791.26 151.88,791.45 152.31,791.58 152.8,791.77 153.23,792.08 153.68,792.4 154.15,792.83 154.64,793.5 155.14,794.18 155.66,794.54 156.19,794.56 156.72,794.55 157.26,794.71 157.8,794.87 158.31,794.87 158.85,794.48 159.41,794.03 159.99,793.94 160.57,794.02 161.14,794.13 161.7,794.33 162.23,794.54 162.74,794.46 163.19,794.3 163.6,794.2 164.18,794.43 164.6,794.81 164.92,795.24 165.23,795.67 165.6,795.76 166.1,795.77 166.41,795.76 166.75,795.96 167.1,796.42 167.48,796.92 167.87,797.44 168.28,797.99 168.68,798.55 169.1,799.09 169.51,799.51 169.91,799.65 170.31,799.73 170.7,799.75 171.2,799.99 171.7,800.19 172.2,800.29 172.7,800.02 173.2,799.72 173.7,799.41 174.2,799.02 174.7,798.71 175.2,798.58 175.65,798.7 176.11,798.88 176.56,799.27 177.01,799.99 177.46,800.74 177.92,801.26 178.38,801.09 178.85,800.88 179.32,800.75 179.8,800.94 180.29,801.07 180.79,801.15 181.29,801.22 181.8,801.26 182.32,801.37 182.84,801.54 183.35,801.73 183.87,801.81 184.39,801.92 184.9,802.02 185.37,801.95 185.84,801.91 186.31,801.95 186.78,802.18 187.25,802.43 187.72,802.72 188.19,803.13 188.65,803.52 189.11,803.8 189.56,803.75 190,803.68 190.53,803.65 191.04,803.89 191.54,804.1 192.04,804.34 192.53,804.62 193.01,804.9 193.5,805.09 194,805.25 194.5,805.42 195.01,805.29 195.54,805.08 196.07,804.91 196.6,805.1 197.13,805.29 197.65,805.48 198.16,805.65 198.64,805.83 199.1,806.22 199.63,806.85 200.09,807.46 200.52,807.85 200.94,808.16 201.4,808.45 201.9,808.8 202.5,809.2 202.94,809.43 203.41,809.43 203.92,809.36 204.45,809.26 205,808.96 205.56,808.65 206.12,808.7 206.67,809.02 207.21,809.33 207.72,809.46 208.2,809.58 208.75,809.56 209.26,809.15 209.74,808.75 210.22,808.42 210.68,808.19 211.16,807.95 211.64,807.92 212.15,808.12 212.7,808.36 213.17,808.39 213.66,808.38 214.17,808.38 214.68,808.39 215.21,808.4 215.74,808.41 216.28,808.41 216.81,808.42 217.35,808.52 217.88,808.66 218.4,808.8 218.92,809.35 219.45,809.92 219.99,810.19 220.52,809.84 221.06,809.49 221.59,809.76 222.12,810.23 222.63,810.64 223.14,810.49 223.63,810.3 224.1,810.13 224.65,810.05 225.18,809.91 225.69,809.92 226.18,810.05 226.66,810.15 227.14,809.8 227.62,809.29 228.1,808.79 228.6,808.53 229.12,808.34 229.67,808.21 230.23,808.32 230.79,808.44 231.34,808.55 231.87,808.65 232.36,808.73 232.81,808.61 233.2,808.46 233.78,808.17 234.09,808.09 234.4,807.98 235,807.9 235.36,807.73 235.77,807.33 236.22,806.89 236.7,806.49 237.21,806.33 237.73,806.18 238.26,806.06 238.79,805.97 239.3,805.89 239.8,805.63 240.29,805.35 240.78,805.08 241.27,805.11 241.76,805.16 242.25,805.18 242.74,804.96 243.23,804.73 243.72,804.5 244.21,804.22 244.7,803.93 245.24,803.7 245.77,803.59 246.3,803.48 246.83,803.7 247.37,803.99 247.9,804.19 248.43,804.02 248.96,803.82 249.5,803.66 249.94,803.55 250.39,803.4 250.83,803.1 251.28,802.67 251.73,802.22 252.17,801.81 252.62,801.44 253.07,801.08 253.51,800.72 253.96,800.26 254.4,799.85 254.94,799.57 255.47,799.82 256,800.09 256.53,799.84 257.07,799.3 257.6,798.78 258.13,798.91 258.66,799.07 259.2,799.11 259.74,798.97 260.28,798.87 260.83,799.07 261.38,799.36 261.92,799.61 262.47,799.7 263.02,799.78 263.56,799.9 264.1,800.01 264.64,800.08 265.17,800.2 265.7,800.29 266.23,800.24 266.77,800.02 267.3,799.81 267.83,799.54 268.36,799.28 268.9,799.15 269.44,799.47 269.98,799.82 270.53,799.97 271.08,799.98 271.62,800.01 272.17,800.12 272.72,800.23 273.26,800.06 273.8,799.6 274.34,799.13 274.87,799.4 275.4,799.78 275.93,800.1 276.47,800.28 277,800.45 277.53,800.26 278.06,799.85 278.6,799.41 279.14,799.32 279.68,799.2 280.23,799.25 280.78,799.52 281.32,799.79 281.87,799.49 282.42,799.09 282.96,798.79 283.5,798.71 284.04,798.64 284.57,798.73 285.1,798.89 285.63,799.02 286.17,798.66 286.7,798.31 287.23,798.03 287.76,797.83 288.3,797.64 288.84,797.55 289.38,797.48 289.93,797.43 290.48,797.43 291.02,797.44 291.57,797.55 292.12,797.71 292.66,797.83 293.2,797.59 293.74,797.36 294.29,797.37 294.85,797.61 295.4,797.86 295.95,797.42 296.49,796.99 297.01,796.8 297.52,796.93 298,797.06 298.6,797.31 299.18,797.6 299.73,797.81 300.26,797.8 300.77,797.81 301.25,797.9 301.7,798.08 302.15,798.37 302.53,798.79 302.87,799.35 303.21,799.92 303.61,800.49 304.1,800.67 304.57,800.52 305.12,800.29 305.73,800.35 306.35,800.45 306.95,800.51 307.5,800.54 307.96,800.57 308.3,800.81" fill="none" stroke="#b4b4b4" stroke-width="1.25" stroke-linejoin="round" />
<polyline points="70.7,797.83 71,797.91 71.37,798.03 71.79,798.15 72.28,798.28 72.8,798.42 73.37,798.88 73.95,799.35 74.56,799.4 75.18,799.14 75.79,798.99 76.4,799.1 76.85,799.15 77.31,798.88 77.78,798.43 78.27,797.96 78.76,797.89 79.27,797.97 79.77,798.04 80.29,798.07 80.81,798.11 81.33,798.05 81.85,797.72 82.36,797.39 82.88,797.33 83.39,797.48 83.9,797.66 84.4,797.65 84.91,797.6 85.41,797.57 85.92,797.31 86.43,797.06 86.93,796.84 87.44,796.69 87.95,796.54 88.46,796.72 88.96,797.21 89.47,797.7 89.98,797.57 90.49,797.22 90.99,796.84 91.5,796.74 92.01,796.61 92.53,796.58 93.05,796.91 93.58,797.23 94.1,797.32 94.63,797.25 95.16,797.17 95.68,797.03 96.2,796.87 96.71,796.73 97.21,796.64 97.7,796.56 98.18,796.31 98.65,795.78 99.1,795.28 99.69,794.83 100.25,794.6 100.79,794.37 101.31,794.24 101.82,794.12 102.32,794.11 102.81,794.47 103.3,794.84 103.79,794.87 104.29,794.31 104.8,793.78 105.32,793.6 105.84,793.67 106.37,793.77 106.9,793.78 107.42,793.8 107.95,793.87 108.47,794.01 108.99,794.15 109.5,794.27 110,794.38 110.5,794.46 111.05,794.72 111.61,795.02 112.17,795.23 112.73,795.21 113.28,795.19 113.8,795.33 114.31,795.49 114.78,795.63 115.21,795.97 115.6,796.26 116.39,796.44 116.97,795.72 117.39,795.11 117.7,795.21 118,747.06 118.3,795.3 119.2,795.79 119.39,795.44 119.6,794.95 119.84,794.37 120.07,793.77 120.29,793.19 120.47,792.7 120.6,792.07 120.85,842.06 120.85,841.8 120.85,841.53 120.85,841.24 120.85,840.94 120.86,840.63 120.86,840.31 120.86,839.97 120.86,839.61 120.86,839.25 120.86,838.87 120.86,838.49 120.86,838.09 120.87,837.68 120.87,837.25 120.87,836.82 120.87,836.38 120.87,835.93 120.87,835.46 120.87,834.99 120.87,834.51 120.88,834.02 120.88,833.52 120.88,833.02 120.88,832.5 120.88,831.98 120.88,831.45 120.88,830.91 120.89,830.37 120.89,829.82 120.89,829.26 120.89,828.7 120.89,828.13 120.89,827.55 120.89,826.97 120.9,826.39 120.9,825.8 120.9,825.2 120.9,824.61 120.9,824.01 120.9,823.4 120.91,822.79 120.91,822.18 120.91,821.57 120.91,820.95 120.91,820.33 120.92,819.71 120.92,819.09 120.92,818.47 120.92,817.85 120.92,817.22 120.92,816.6 120.93,815.98 120.93,815.35 120.93,814.73 120.93,814.11 120.94,813.48 120.94,812.86 120.94,812.25 120.94,811.63 120.95,811.02 120.95,810.4 120.95,809.79 120.95,809.19 120.96,808.59 120.96,807.99 120.96,807.39 120.96,806.8 120.97,806.22 120.97,805.64 120.97,805.06 120.98,804.49 120.98,803.93 120.98,803.37 120.98,802.81 120.99,802.27 120.99,801.73 120.99,801.2 121,800.67 121,800.16 121.01,799.65 121.01,799.15 121.01,798.65 121.02,798.17 121.02,797.7 121.02,797.23 121.03,796.78 121.03,796.33 121.04,795.9 121.04,795.47 121.04,795.06 121.05,794.66 121.05,794.27 121.06,793.89 121.06,793.52 121.07,793.17 121.07,792.82 121.08,792.49 121.08,792.18 121.08,791.87 121.09,791.59 121.09,791.31 121.1,791.05 121.43,787.15 121.9,790.32 121.97,790.58 122.03,790.91 122.1,791.29 122.17,791.73 122.25,792.21 122.32,792.72 122.4,793.26 122.48,793.83 122.56,794.41 122.64,794.99 122.73,795.58 122.81,796.15 122.91,796.71 123,797.25 123.1,797.76 123.2,798.22 123.33,798.8 123.47,799.4 123.62,800.01 123.77,800.63 123.93,801.25 124.09,801.85 124.25,802.42 124.41,802.95 124.58,803.79 124.74,804.19 124.9,804.51 125.05,804.75 125.2,804.91 125.52,805.07 125.83,805.03 126.13,804.72 126.43,804.05 126.72,803.13 127,801.75 127.05,801.44 127.1,801.11 127.15,800.76 127.2,800.39 127.24,800.01 127.29,799.6 127.34,799.18 127.39,798.75 127.43,798.3 127.48,797.84 127.53,797.36 127.57,796.88 127.62,796.38 127.66,795.87 127.71,795.35 127.75,794.82 127.8,794.28 127.84,793.74 127.89,793.19 127.93,792.63 127.97,792.07 128.02,791.5 128.06,790.93 128.11,790.36 128.15,789.79 128.19,789.21 128.24,788.64 128.28,788.06 128.32,787.49 128.37,786.92 128.41,786.36 128.46,785.79 128.5,785.24 128.54,784.78 128.57,784.3 128.61,783.82 128.64,783.33 128.68,782.83 128.72,782.33 128.75,781.81 128.79,781.29 128.83,780.77 128.86,780.24 128.9,779.7 128.93,779.16 128.97,778.62 129.01,778.07 129.04,777.52 129.08,776.97 129.11,776.43 129.15,775.88 129.18,775.33 129.22,774.78 129.25,774.24 129.29,773.69 129.32,773.16 129.36,772.62 129.39,772.09 129.43,771.56 129.46,771.05 129.5,770.53 129.53,770.03 129.57,769.53 129.6,769.04 129.63,768.56 129.67,768.09 129.7,767.63 129.74,767.18 129.77,766.74 129.8,766.32 129.83,765.91 129.87,765.51 129.9,765.12 129.96,764.39 130.03,763.68 130.09,763.01 130.14,762.37 130.2,761.76 130.26,761.18 130.31,760.62 130.37,760.09 130.43,759.58 130.48,759.1 130.54,758.63 130.59,758.19 130.65,757.76 130.71,757.35 130.77,756.95 130.83,756.57 130.89,756.2 130.96,755.84 131.03,755.49 131.1,755.15 131.32,754.19 131.55,753.7 131.79,753.48 132.04,753.34 132.29,753.16 132.55,752.83 132.8,751.73 132.9,751.37 133,750.98 133.1,750.53 133.21,750.06 133.32,749.56 133.42,749.05 133.53,748.52 133.64,747.97 133.74,747.41 133.85,746.84 133.95,746.26 134.06,745.68 134.16,745.1 134.25,744.52 134.35,743.94 134.43,743.37 134.52,742.81 134.6,742.26 134.67,741.79 134.73,741.34 134.79,740.91 134.85,740.49 134.91,740.09 134.96,739.69 135.01,739.29 135.06,738.89 135.1,738.49 135.15,738.07 135.19,737.63 135.24,737.17 135.28,736.69 135.33,736.17 135.37,735.62 135.41,735.03 135.46,734.4 135.5,733.71 135.55,732.97 135.6,732.18 135.62,731.8 135.64,731.41 135.67,731.01 135.69,730.59 135.71,730.15 135.73,729.7 135.76,729.24 135.78,728.77 135.8,728.29 135.82,727.8 135.85,727.3 135.87,726.79 135.89,726.28 135.91,725.75 135.94,725.22 135.96,724.69 135.98,724.14 136,723.59 136.03,723.04 136.05,722.49 136.07,721.93 136.09,721.37 136.12,720.8 136.14,720.24 136.16,719.67 136.18,719.11 136.21,718.55 136.23,717.98 136.25,717.43 136.27,716.87 136.3,716.32 136.32,715.77 136.34,715.22 136.36,714.69 136.38,714.16 136.41,713.63 136.43,713.11 136.45,712.61 136.47,712.11 136.49,711.62 136.51,711.14 136.54,710.67 136.56,710.21 136.58,709.77 136.6,709.34 136.63,708.72 136.66,708.09 136.69,707.45 136.72,706.81 136.75,706.17 136.78,705.53 136.81,704.89 136.84,704.25 136.87,703.61 136.89,702.98 136.92,702.35 136.95,701.74 136.98,701.13 137.01,700.54 137.04,699.96 137.06,699.4 137.09,698.85 137.12,698.32 137.15,697.82 137.18,697.33 137.21,696.87 137.23,696.43 137.26,696.02 137.29,695.64 137.32,695.29 137.35,694.97 137.38,694.69 137.41,694.44 137.44,694.22 137.47,694.05 137.5,693.92 137.56,693.85 137.62,693.87 137.68,693.91 137.73,694.16 137.79,694.52 137.85,694.98 137.91,695.53 137.97,696.15 138.03,696.82 138.09,697.55 138.15,698.32 138.22,699.11 138.29,699.92 138.36,700.72 138.43,701.52 138.5,702.29 138.54,702.7 138.58,703.15 138.62,703.62 138.66,704.11 138.7,704.63 138.74,705.18 138.79,705.74 138.83,706.32 138.87,706.92 138.92,707.52 138.96,708.14 139.01,708.76 139.05,709.38 139.1,710.01 139.15,710.63 139.19,711.25 139.24,711.86 139.29,712.45 139.33,713.04 139.38,713.61 139.43,714.16 139.47,714.68 139.52,715.19 139.57,715.66 139.62,716.11 139.66,716.52 139.71,716.9 139.76,717.24 139.81,717.53 139.85,717.79 139.9,717.95 140.07,718.32 140.24,718.33 140.41,718 140.59,717.35 140.76,716.57 140.93,715.73 141.1,714.92 141.25,714.23 141.4,713.76 141.67,713.08 141.88,712.27 142.11,711.72 142.4,711.52 142.58,711.59 142.78,711.77 143,712.17 143.22,712.67 143.46,713.23 143.7,713.83 143.95,714.46 144.2,715.1 144.36,715.61 144.51,716.15 144.67,716.71 144.83,717.28 145,717.88 145.17,718.48 145.33,719.11 145.51,719.58 145.68,720.11 145.86,720.68 146.04,721.08 146.22,721.49 146.4,721.9 146.56,722.61 146.73,723.11 146.91,723.66 147.09,724.24 147.27,724.86 147.45,725.48 147.64,726.09 147.82,726.7 148.01,727.27 148.19,727.51 148.36,728.05 148.53,728.51 148.7,728.9 148.85,729.21 149,729.44 149.39,729.59 149.73,729.15 150.03,728.33 150.35,727.48 150.7,726.92 151.19,726.49 151.72,726.17 152.26,726.11 152.8,726.55 152.96,726.81 153.13,727.09 153.29,727.41 153.45,727.77 153.61,728.16 153.77,728.59 153.94,729.69 154.11,730.24 154.28,730.84 154.45,731.49 154.63,732.19 154.81,732.95 155,733.76 155.09,734.14 155.17,734.55 155.26,734.98 155.35,735.43 155.45,735.88 155.54,736.33 155.63,736.8 155.73,737.28 155.82,737.77 155.92,738.27 156.01,738.78 156.11,739.3 156.21,739.82 156.31,740.35 156.41,740.89 156.5,741.42 156.6,741.96 156.7,742.49 156.8,743.03 156.9,743.57 157,744.11 157.1,744.65 157.2,745.17 157.3,745.69 157.4,746.2 157.5,746.7 157.6,747.19 157.7,747.66 157.8,748.12 157.92,748.68 158.05,749.23 158.17,749.76 158.3,750.27 158.42,750.76 158.55,751.24 158.68,751.71 158.8,752.18 158.93,752.64 159.05,753.1 159.18,753.56 159.31,754.01 159.43,754.47 159.56,754.93 159.69,755.41 159.81,755.9 159.94,756.4 160.07,756.91 160.19,757.43 160.32,757.96 160.45,758.5 160.57,759.05 160.7,759.61 160.8,760.07 160.9,760.54 161.01,761.01 161.11,761.48 161.22,761.95 161.33,762.43 161.43,762.92 161.54,763.41 161.65,763.9 161.76,764.4 161.87,764.9 161.98,765.4 162.08,765.9 162.19,766.41 162.3,766.92 162.4,767.43 162.51,767.93 162.61,768.44 162.71,768.94 162.81,769.44 162.91,769.95 163,770.45 163.1,770.94 163.19,771.44 163.28,771.93 163.36,772.42 163.44,772.9 163.52,773.38 163.6,773.85 163.68,774.37 163.76,774.9 163.83,775.43 163.9,775.97 163.97,776.5 164.03,777.03 164.09,777.57 164.15,778.1 164.21,778.63 164.26,779.16 164.31,779.69 164.36,780.21 164.41,780.73 164.46,781.25 164.51,781.76 164.55,782.27 164.6,782.78 164.64,783.27 164.68,783.77 164.73,784.25 164.77,784.73 164.82,785.21 164.86,785.67 164.91,786.13 164.95,786.57 165,787.01 165.07,787.63 165.13,788.23 165.2,788.81 165.26,789.38 165.32,789.94 165.39,790.48 165.44,791.01 165.5,791.53 165.56,792.04 165.62,792.54 165.68,793.04 165.74,793.52 165.8,794.01 165.85,794.49 165.91,794.97 165.98,795.45 166.04,795.93 166.1,796.4 166.18,796.98 166.25,797.54 166.33,798.1 166.4,798.65 166.47,799.19 166.55,799.72 166.62,800.25 166.7,800.77 166.78,801.28 166.86,801.79 166.94,802.29 167.03,802.79 167.11,803.28 167.21,803.77 167.3,804.26 167.4,804.77 167.51,805.28 167.61,805.79 167.72,806.29 167.83,806.78 167.94,807.27 168.05,807.75 168.17,808.24 168.29,808.72 168.42,809.2 168.55,809.67 168.7,810.13 168.84,810.36 169,810.83 169.2,811.38 169.41,811.92 169.63,812.5 169.87,813.07 170.11,813.64 170.36,814.2 170.61,814.76 170.86,815.26 171.11,815.57 171.35,815.89 171.58,816.21 171.8,816.55 172.01,816.91 172.21,817.29 172.41,817.92 172.6,818.56 172.79,819.19 172.98,819.82 173.17,820.45 173.35,821.06 173.54,821.67 173.72,822.13 173.91,822.51 174.1,822.87 174.33,823.27 174.56,823.66 174.79,824.03 175.02,824.4 175.26,824.86 175.49,825.32 175.72,825.77 175.95,826.23 176.17,826.69 176.4,827.17 176.62,827.68 176.84,828.2 177.05,828.72 177.25,829.24 177.46,829.76 177.67,830.28 177.89,830.76 178.12,831.17 178.35,831.57 178.6,831.95 178.89,832.4 179.2,832.86 179.52,833.22 179.85,833.56 180.18,833.88 180.51,834.14 180.85,834.52 181.18,834.88 181.5,835.13 181.95,835.27 182.37,835 182.79,834.57 183.24,834.09 183.73,833.76 184.3,833.63 184.73,833.65 185.2,834.12 185.7,834.73 186.23,835.35 186.76,835.25 187.31,835.16 187.85,835.27 188.38,835.6 188.9,835.91 189.4,835.93 189.9,835.88 190.4,835.82 190.9,835.61 191.4,835.39 191.9,835.29 192.4,835.69 192.9,836.1 193.4,836.34 193.9,836.32 194.41,836.27 194.91,836.06 195.41,835.75 195.92,835.45 196.43,835.2 196.94,834.99 197.47,834.86 198,835.09 198.45,835.35 198.91,835.62 199.39,835.77 199.87,835.95 200.35,836.2 200.83,836.58 201.31,836.95 201.78,837.18 202.24,837.22 202.68,837.19 203.1,837.2 203.64,837.52 204.16,837.69 204.65,837.65 205.12,837.45 205.58,837.22 206.05,836.71 206.52,835.98 207,835.31 207.51,835.15 208.05,835.33 208.59,835.52 209.14,835.27 209.66,835.05 210.16,834.89 210.61,834.83 211,834.82 211.46,835.01 211.76,835.51 212.01,836.08 212.29,836.68 212.7,837.3 213.1,837.48 213.55,837.58 214.04,837.66 214.55,838.09 215.08,838.64 215.6,839.08 216.1,838.66 216.52,838.18 216.92,837.61 217.32,837.59 217.72,837.66 218.14,837.7 218.57,837.39 219.02,836.54 219.5,835.66 219.84,835.07 220.2,834.64 220.57,834.19 220.95,833.71 221.34,833.38 221.73,833.36 222.13,833.35 222.53,833.36 222.93,833 223.33,832.6 223.72,832.24 224.1,831.95 224.6,831.71 225.1,831.58 225.6,831.55 226.1,831.62 226.6,831.7 227.1,831.61 227.6,831.36 228.1,831.05 228.6,830.68 228.99,830.34 229.39,829.94 229.81,829.6 230.23,829.33 230.65,829.04 231.07,828.77 231.48,828.67 231.87,828.56 232.24,828.47 232.59,828.25 232.91,827.97 233.2,827.75 233.9,827.33 234.28,827 235,825.94 235.28,825.54 235.59,825.3 235.94,825.01 236.31,824.7 236.71,824.34 237.11,823.89 237.53,823.44 237.94,823 238.35,822.76 238.75,822.57 239.13,822.42 239.48,822.19 239.8,821.64 240.4,820.8 240.92,820.57 241.39,821.21 241.85,821.83 242.34,822.1 242.9,821.47 243.18,821.04 243.47,820.56 243.76,820.19 244.05,819.91 244.35,819.6 244.66,819.26 244.97,818.9 245.3,818.29 245.63,817.64 245.98,816.97 246.34,816.3 246.71,815.77 247.1,815.27 247.39,814.91 247.7,814.53 248.01,814.34 248.34,814.24 248.68,814.15 249.02,814.05 249.37,813.73 249.72,813.17 250.07,812.6 250.43,812.04 250.79,811.67 251.15,811.47 251.5,811.29 251.86,811.11 252.2,810.82 252.54,810.46 252.88,810.12 253.2,809.81 253.72,809.34 254.22,808.92 254.72,808.54 255.21,807.93 255.7,807.3 256.18,806.71 256.66,806.77 257.14,806.88 257.62,807.01 258.11,807.1 258.6,807.2 259.09,807.24 259.59,806.91 260.08,806.61 260.57,806.35 261.06,806.12 261.55,805.91 262.05,805.86 262.55,805.97 263.06,806.07 263.58,806.45 264.1,806.92 264.6,807.36 265.11,807.34 265.64,807.3 266.18,807.12 266.73,806.64 267.27,806.15 267.81,806.04 268.33,806.05 268.84,806.06 269.32,806.24 269.78,806.4 270.2,806.54 270.84,806.31 271.39,806.1 271.89,805.85 272.35,805.59 272.8,805.3 273.28,805.33 273.8,805.63 274.23,805.84 274.67,805.65 275.11,805.21 275.55,804.76 276.01,804.32 276.48,803.93 276.97,803.56 277.47,803.2 278,802.87 278.45,802.64 278.93,802.74 279.43,803.02 279.93,803.33 280.45,803.54 280.97,803.74 281.5,803.86 282.02,803.6 282.53,803.34 283.02,803.2 283.5,803.21 284.06,803.22 284.61,803.58 285.15,804.05 285.68,804.48 286.2,804.69 286.72,804.9 287.24,804.91 287.77,804.69 288.3,804.47 288.79,804.55 289.28,804.71 289.77,804.88 290.26,805.08 290.75,805.3 291.24,805.5 291.73,805.56 292.22,805.62 292.71,805.65 293.2,805.56 293.68,805.48 294.16,805.52 294.64,805.76 295.12,806 295.6,806.19 296.08,806.3 296.56,806.41 297.04,806.52 297.52,806.63 298,806.72 298.54,806.75 299.07,806.75 299.61,806.73 300.14,806.94 300.68,807.15 301.23,807.22 301.78,807.11 302.33,806.98 302.9,807.31 303.44,807.67 304.03,807.74 304.65,807.3 305.28,806.96 305.91,807.35 306.5,807.71 307.06,807.62 307.56,807.47 307.98,807.34 308.3,807.11" fill="none" stroke="#000" stroke-width="1.45" stroke-linejoin="round" />
<line x1="409.7" y1="39.7" x2="409.7" y2="237.9" stroke="#000" stroke-width="1.8" />
<line x1="406.3" y1="40.5" x2="409.7" y2="40.5" stroke="#000" stroke-width="1.5" />
<text x="401.1" y="45.1" font-size="12.6" text-anchor="end"  stroke="#000" stroke-width="0.3">800</text>
<line x1="406.3" y1="89.65" x2="409.7" y2="89.65" stroke="#000" stroke-width="1.5" />
<text x="401.1" y="94.25" font-size="12.6" text-anchor="end"  stroke="#000" stroke-width="0.3">600</text>
<line x1="406.3" y1="138.8" x2="409.7" y2="138.8" stroke="#000" stroke-width="1.5" />
<text x="401.1" y="143.4" font-size="12.6" text-anchor="end"  stroke="#000" stroke-width="0.3">400</text>
<line x1="406.3" y1="187.95" x2="409.7" y2="187.95" stroke="#000" stroke-width="1.5" />
<text x="401.1" y="192.55" font-size="12.6" text-anchor="end"  stroke="#000" stroke-width="0.3">200</text>
<line x1="406.3" y1="237.1" x2="409.7" y2="237.1" stroke="#000" stroke-width="1.5" />
<text x="401.1" y="241.7" font-size="12.6" text-anchor="end"  stroke="#000" stroke-width="0.3">0</text>
<line x1="409" y1="237.1" x2="652.5" y2="237.1" stroke="#000" stroke-width="1.8" />
<line x1="409.2" y1="237.1" x2="409.2" y2="240.6" stroke="#000" stroke-width="1.5" />
<line x1="470" y1="237.1" x2="470" y2="240.6" stroke="#000" stroke-width="1.5" />
<line x1="530.8" y1="237.1" x2="530.8" y2="240.6" stroke="#000" stroke-width="1.5" />
<line x1="591.6" y1="237.1" x2="591.6" y2="240.6" stroke="#000" stroke-width="1.5" />
<line x1="652.4" y1="237.1" x2="652.4" y2="240.6" stroke="#000" stroke-width="1.5" />
<text x="439.5" y="253.6" font-size="12.6" text-anchor="middle"  stroke="#000" stroke-width="0.3">-4</text>
<text x="500.5" y="253.6" font-size="12.6" text-anchor="middle"  stroke="#000" stroke-width="0.3">-3</text>
<text x="561.5" y="253.6" font-size="12.6" text-anchor="middle"  stroke="#000" stroke-width="0.3">-1.5</text>
<text x="622" y="253.6" font-size="12.6" text-anchor="middle"  stroke="#000" stroke-width="0.3">1</text>
<text transform="translate(359.8,132.5) rotate(-90)" font-size="16.6" text-anchor="middle" stroke="#000" stroke-width="0.3">Amplitude (&#956;V)</text>
<text x="463" y="279.2" font-size="15.42"  stroke="#000" stroke-width="0.3">Intensity (log cd s m<tspan dy="-5.6" font-size="9.6">-2</tspan><tspan dy="5.6" dx="0.9">)</tspan></text>
<line x1="437.5" y1="101.4" x2="622.5" y2="101.4" stroke="#555" stroke-width="1.1" />
<text x="521.7" y="105.7" font-size="20" text-anchor="middle" font-weight="bold" >***</text>
<line x1="622.1" y1="117.5" x2="622.1" y2="126" stroke="#333" stroke-width="1" />
<line x1="621.1" y1="117.5" x2="623.1" y2="117.5" stroke="#333" stroke-width="1" />
<line x1="621.1" y1="126" x2="623.1" y2="126" stroke="#333" stroke-width="1" />
<line x1="622.1" y1="175.5" x2="622.1" y2="186" stroke="#888" stroke-width="1" />
<line x1="621.1" y1="175.5" x2="623.1" y2="175.5" stroke="#888" stroke-width="1" />
<line x1="621.1" y1="186" x2="623.1" y2="186" stroke="#888" stroke-width="1" />
<polyline points="439.3,234.8 500.6,230.9 561.5,219.5 622.1,180.7" fill="none" stroke="#a8a8a8" stroke-width="1.1" stroke-linejoin="round" />
<circle cx="439.3" cy="234.8" r="2.9" fill="#c4c4c4" stroke="#8a8a8a" stroke-width="0.9"/>
<circle cx="500.6" cy="230.9" r="2.9" fill="#c4c4c4" stroke="#8a8a8a" stroke-width="0.9"/>
<circle cx="561.5" cy="219.5" r="2.9" fill="#c4c4c4" stroke="#8a8a8a" stroke-width="0.9"/>
<circle cx="622.1" cy="180.7" r="2.9" fill="#c4c4c4" stroke="#8a8a8a" stroke-width="0.9"/>
<polyline points="439.3,222 500.6,203 561.5,161.1 622.1,121.8" fill="none" stroke="#000" stroke-width="2.0" stroke-linejoin="round" />
<circle cx="439.3" cy="222" r="3.2" fill="#000" stroke="none" stroke-width="0"/>
<circle cx="500.6" cy="203" r="3.2" fill="#000" stroke="none" stroke-width="0"/>
<circle cx="561.5" cy="161.1" r="3.2" fill="#000" stroke="none" stroke-width="0"/>
<circle cx="622.1" cy="121.8" r="3.2" fill="#000" stroke="none" stroke-width="0"/>
<line x1="464" y1="49.6" x2="475" y2="49.6" stroke="#000" stroke-width="1.4" />
<circle cx="469.5" cy="49.6" r="2.8" fill="#000" stroke="none" stroke-width="0"/>
<text x="482" y="55.6" font-size="12.4" textLength="36.9" lengthAdjust="spacingAndGlyphs" stroke="#000" stroke-width="0.3">Control</text>
<line x1="535.4" y1="49.6" x2="546.5" y2="49.6" stroke="#a0a0a0" stroke-width="1.2" />
<circle cx="541" cy="49.6" r="2.6" fill="#c4c4c4" stroke="#8a8a8a" stroke-width="0.9"/>
<text x="553.7" y="55.6" font-size="12.4" fill="#b0b0b0" textLength="58" lengthAdjust="spacingAndGlyphs" stroke="#b0b0b0" stroke-width="0.3"><tspan font-style="italic">Pomt1</tspan> cKO</text>
<line x1="410.4" y1="354.9" x2="410.4" y2="551.9" stroke="#000" stroke-width="1.8" />
<line x1="407" y1="355.7" x2="410.4" y2="355.7" stroke="#000" stroke-width="1.5" />
<text x="401.8" y="360.3" font-size="12.6" text-anchor="end"  stroke="#000" stroke-width="0.3">400</text>
<line x1="407" y1="404.55" x2="410.4" y2="404.55" stroke="#000" stroke-width="1.5" />
<text x="401.8" y="409.15" font-size="12.6" text-anchor="end"  stroke="#000" stroke-width="0.3">300</text>
<line x1="407" y1="453.4" x2="410.4" y2="453.4" stroke="#000" stroke-width="1.5" />
<text x="401.8" y="458" font-size="12.6" text-anchor="end"  stroke="#000" stroke-width="0.3">200</text>
<line x1="407" y1="502.25" x2="410.4" y2="502.25" stroke="#000" stroke-width="1.5" />
<text x="401.8" y="506.85" font-size="12.6" text-anchor="end"  stroke="#000" stroke-width="0.3">100</text>
<line x1="407" y1="551.1" x2="410.4" y2="551.1" stroke="#000" stroke-width="1.5" />
<text x="401.8" y="555.7" font-size="12.6" text-anchor="end"  stroke="#000" stroke-width="0.3">0</text>
<line x1="409.7" y1="551.1" x2="656.5" y2="551.1" stroke="#000" stroke-width="1.8" />
<line x1="410.6" y1="551.1" x2="410.6" y2="554.6" stroke="#000" stroke-width="1.5" />
<line x1="451.5" y1="551.1" x2="451.5" y2="554.6" stroke="#000" stroke-width="1.5" />
<line x1="492.4" y1="551.1" x2="492.4" y2="554.6" stroke="#000" stroke-width="1.5" />
<line x1="533.3" y1="551.1" x2="533.3" y2="554.6" stroke="#000" stroke-width="1.5" />
<line x1="574.2" y1="551.1" x2="574.2" y2="554.6" stroke="#000" stroke-width="1.5" />
<line x1="615.1" y1="551.1" x2="615.1" y2="554.6" stroke="#000" stroke-width="1.5" />
<line x1="656" y1="551.1" x2="656" y2="554.6" stroke="#000" stroke-width="1.5" />
<text x="430.7" y="568.4" font-size="12.6" text-anchor="middle"  stroke="#000" stroke-width="0.3">0.8</text>
<text x="471.3" y="568.4" font-size="12.6" text-anchor="middle"  stroke="#000" stroke-width="0.3">1</text>
<text x="513" y="568.4" font-size="12.6" text-anchor="middle"  stroke="#000" stroke-width="0.3">1.2</text>
<text x="553.5" y="568.4" font-size="12.6" text-anchor="middle"  stroke="#000" stroke-width="0.3">1.6</text>
<text x="594.9" y="568.4" font-size="12.6" text-anchor="middle"  stroke="#000" stroke-width="0.3">1.9</text>
<text x="635" y="568.4" font-size="12.6" text-anchor="middle"  stroke="#000" stroke-width="0.3">2.1</text>
<text transform="translate(359.9,452.2) rotate(-90)" font-size="16.6" text-anchor="middle" stroke="#000" stroke-width="0.3">Amplitude (&#956;V)</text>
<text x="462.8" y="593" font-size="15.42"  stroke="#000" stroke-width="0.3">Intensity (log cd s m<tspan dy="-5.6" font-size="9.6">-2</tspan><tspan dy="5.6" dx="0.9">)</tspan></text>
<text x="424.3" y="436.5" font-size="14"  stroke="#000" stroke-width="0.3">ns</text>
<line x1="467.7" y1="437.7" x2="638.2" y2="437.7" stroke="#555" stroke-width="1.1" />
<text x="549.7" y="440.8" font-size="20" text-anchor="middle" font-weight="bold" >***</text>
<line x1="471.3" y1="516.5" x2="471.3" y2="526.5" stroke="#333" stroke-width="1" />
<line x1="470.3" y1="516.5" x2="472.3" y2="516.5" stroke="#333" stroke-width="1" />
<line x1="470.3" y1="526.5" x2="472.3" y2="526.5" stroke="#333" stroke-width="1" />
<line x1="635" y1="474" x2="635" y2="482.5" stroke="#333" stroke-width="1" />
<line x1="634" y1="474" x2="636" y2="474" stroke="#333" stroke-width="1" />
<line x1="634" y1="482.5" x2="636" y2="482.5" stroke="#333" stroke-width="1" />
<line x1="553.1" y1="483" x2="553.1" y2="489" stroke="#333" stroke-width="1" />
<line x1="552.1" y1="483" x2="554.1" y2="483" stroke="#333" stroke-width="1" />
<line x1="552.1" y1="489" x2="554.1" y2="489" stroke="#333" stroke-width="1" />
<polyline points="430.3,538.9 471.3,537.3 512.2,536.9 553.1,535.4 594.1,535 635,534.2" fill="none" stroke="#a8a8a8" stroke-width="1.1" stroke-linejoin="round" />
<circle cx="430.3" cy="538.9" r="2.9" fill="#c4c4c4" stroke="#8a8a8a" stroke-width="0.9"/>
<circle cx="471.3" cy="537.3" r="2.9" fill="#c4c4c4" stroke="#8a8a8a" stroke-width="0.9"/>
<circle cx="512.2" cy="536.9" r="2.9" fill="#c4c4c4" stroke="#8a8a8a" stroke-width="0.9"/>
<circle cx="553.1" cy="535.4" r="2.9" fill="#c4c4c4" stroke="#8a8a8a" stroke-width="0.9"/>
<circle cx="594.1" cy="535" r="2.9" fill="#c4c4c4" stroke="#8a8a8a" stroke-width="0.9"/>
<circle cx="635" cy="534.2" r="2.9" fill="#c4c4c4" stroke="#8a8a8a" stroke-width="0.9"/>
<polyline points="430.3,533.4 471.3,521.6 512.2,497.6 553.1,486.1 594.1,480.2 635,478.3" fill="none" stroke="#000" stroke-width="2.0" stroke-linejoin="round" />
<circle cx="430.3" cy="533.4" r="3.2" fill="#000" stroke="none" stroke-width="0"/>
<circle cx="471.3" cy="521.6" r="3.2" fill="#000" stroke="none" stroke-width="0"/>
<circle cx="512.2" cy="497.6" r="3.2" fill="#000" stroke="none" stroke-width="0"/>
<circle cx="553.1" cy="486.1" r="3.2" fill="#000" stroke="none" stroke-width="0"/>
<circle cx="594.1" cy="480.2" r="3.2" fill="#000" stroke="none" stroke-width="0"/>
<circle cx="635" cy="478.3" r="3.2" fill="#000" stroke="none" stroke-width="0"/>
<line x1="409.8" y1="670.4" x2="409.8" y2="864.3" stroke="#000" stroke-width="1.8" />
<line x1="406.4" y1="671.2" x2="409.8" y2="671.2" stroke="#000" stroke-width="1.5" />
<text x="401.2" y="675.8" font-size="12.6" text-anchor="end"  stroke="#000" stroke-width="0.3">500</text>
<line x1="407.3" y1="690.43" x2="409.8" y2="690.43" stroke="#000" stroke-width="1.5" />
<line x1="406.4" y1="709.66" x2="409.8" y2="709.66" stroke="#000" stroke-width="1.5" />
<text x="401.2" y="714.26" font-size="12.6" text-anchor="end"  stroke="#000" stroke-width="0.3">400</text>
<line x1="407.3" y1="728.89" x2="409.8" y2="728.89" stroke="#000" stroke-width="1.5" />
<line x1="406.4" y1="748.12" x2="409.8" y2="748.12" stroke="#000" stroke-width="1.5" />
<text x="401.2" y="752.72" font-size="12.6" text-anchor="end"  stroke="#000" stroke-width="0.3">300</text>
<line x1="407.3" y1="767.35" x2="409.8" y2="767.35" stroke="#000" stroke-width="1.5" />
<line x1="406.4" y1="786.58" x2="409.8" y2="786.58" stroke="#000" stroke-width="1.5" />
<text x="401.2" y="791.18" font-size="12.6" text-anchor="end"  stroke="#000" stroke-width="0.3">200</text>
<line x1="407.3" y1="805.81" x2="409.8" y2="805.81" stroke="#000" stroke-width="1.5" />
<line x1="406.4" y1="825.04" x2="409.8" y2="825.04" stroke="#000" stroke-width="1.5" />
<text x="401.2" y="829.64" font-size="12.6" text-anchor="end"  stroke="#000" stroke-width="0.3">100</text>
<line x1="407.3" y1="844.27" x2="409.8" y2="844.27" stroke="#000" stroke-width="1.5" />
<line x1="406.4" y1="863.5" x2="409.8" y2="863.5" stroke="#000" stroke-width="1.5" />
<text x="401.2" y="868.1" font-size="12.6" text-anchor="end"  stroke="#000" stroke-width="0.3">0</text>
<line x1="409.2" y1="863.5" x2="656.7" y2="863.5" stroke="#000" stroke-width="1.8" />
<line x1="470.9" y1="863.5" x2="470.9" y2="866.5" stroke="#000" stroke-width="1.5" />
<line x1="531.9" y1="863.5" x2="531.9" y2="866.5" stroke="#000" stroke-width="1.5" />
<line x1="593.7" y1="863.5" x2="593.7" y2="866.5" stroke="#000" stroke-width="1.5" />
<text transform="translate(361.2,770.5) rotate(-90)" font-size="17.8" text-anchor="middle" stroke="#000" stroke-width="0.3">Time (ms)</text>
<line x1="461.6" y1="827.8" x2="461.6" y2="823.9" stroke="#000" stroke-width="1" />
<line x1="459.8" y1="823.9" x2="463.4" y2="823.9" stroke="#000" stroke-width="1" />
<rect x="453.1" y="827.8" width="17" height="35.7" fill="#000" stroke="none" stroke-width="0"/>
<line x1="478.75" y1="803" x2="478.75" y2="788.4" stroke="#999" stroke-width="1" />
<line x1="476.95" y1="788.4" x2="480.55" y2="788.4" stroke="#555" stroke-width="1" />
<rect x="470.6" y="803.5" width="16.3" height="60" fill="#bcbcbc" stroke="#555" stroke-width="1"/>
<line x1="523.25" y1="837.6" x2="523.25" y2="835.4" stroke="#000" stroke-width="1" />
<line x1="521.45" y1="835.4" x2="525.05" y2="835.4" stroke="#000" stroke-width="1" />
<rect x="514.6" y="837.6" width="17.3" height="25.9" fill="#000" stroke="none" stroke-width="0"/>
<line x1="540.75" y1="785.3" x2="540.75" y2="771.5" stroke="#999" stroke-width="1" />
<line x1="538.95" y1="771.5" x2="542.55" y2="771.5" stroke="#555" stroke-width="1" />
<rect x="532.4" y="785.8" width="16.7" height="77.7" fill="#bcbcbc" stroke="#555" stroke-width="1"/>
<line x1="587" y1="841.2" x2="587" y2="838.6" stroke="#000" stroke-width="1" />
<line x1="585.2" y1="838.6" x2="588.8" y2="838.6" stroke="#000" stroke-width="1" />
<rect x="578.3" y="841.2" width="17.4" height="22.3" fill="#000" stroke="none" stroke-width="0"/>
<line x1="604.55" y1="825.8" x2="604.55" y2="805" stroke="#999" stroke-width="1" />
<line x1="602.75" y1="805" x2="606.35" y2="805" stroke="#555" stroke-width="1" />
<rect x="596.2" y="826.3" width="16.7" height="37.2" fill="#bcbcbc" stroke="#555" stroke-width="1"/>
<text x="470.1" y="765.4" font-size="20" text-anchor="middle" font-weight="bold" >***</text>
<text x="531.8" y="765.4" font-size="20" text-anchor="middle" font-weight="bold" >***</text>
<text x="595.3" y="765.4" font-size="20" text-anchor="middle" font-weight="bold" >***</text>
<text x="470.7" y="901.2" font-size="16" text-anchor="middle"  stroke="#000" stroke-width="0.3">Rod</text>
<text x="533.6" y="901.2" font-size="16" text-anchor="middle"  stroke="#000" stroke-width="0.3">Mixed</text>
<text x="597.9" y="901.2" font-size="16" text-anchor="middle"  stroke="#000" stroke-width="0.3">Cone</text>
<rect x="465.8" y="709" width="6.5" height="6.2" fill="#000" stroke="none" stroke-width="0"/>
<text x="482.8" y="715" font-size="12.4" textLength="34.3" lengthAdjust="spacingAndGlyphs" stroke="#000" stroke-width="0.3">Control</text>
<rect x="539.3" y="709.3" width="5.8" height="5.8" fill="#bcbcbc" stroke="#555" stroke-width="0.9"/>
<text x="554.2" y="715" font-size="12.4" fill="#b0b0b0" textLength="54.2" lengthAdjust="spacingAndGlyphs" stroke="#b0b0b0" stroke-width="0.3"><tspan font-style="italic">Pomt1</tspan> cKO</text>
</svg></body></html>
